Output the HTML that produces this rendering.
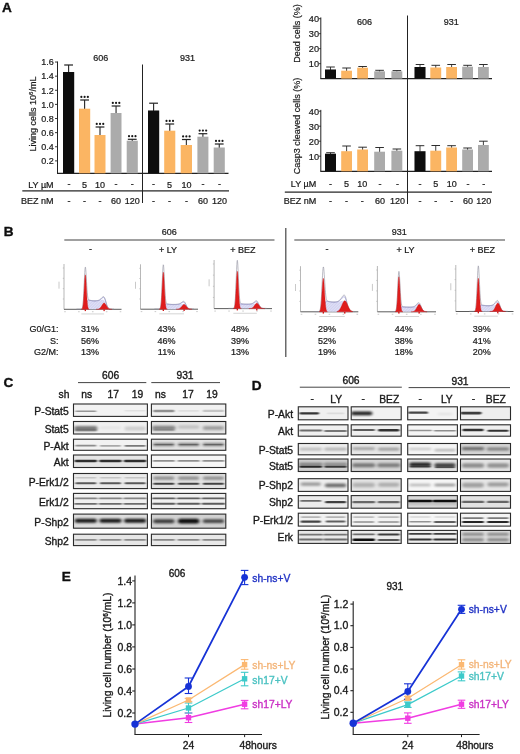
<!DOCTYPE html>
<html><head><meta charset="utf-8"><title>Figure</title>
<style>
html,body{margin:0;padding:0;background:#fff;}
body{width:520px;height:754px;overflow:hidden;font-family:"Liberation Sans", sans-serif;}
svg{display:block;font-family:"Liberation Sans", sans-serif;}
</style></head><body>
<svg width="520" height="754" viewBox="0 0 520 754">
<defs>
<filter id="b1" x="-20%" y="-80%" width="140%" height="260%"><feGaussianBlur stdDeviation="1.3 0.62"/></filter>
<filter id="b2" x="-20%" y="-80%" width="140%" height="260%"><feGaussianBlur stdDeviation="1.4 0.9"/></filter>
<filter id="b3" x="-20%" y="-80%" width="140%" height="260%"><feGaussianBlur stdDeviation="1.8 1.3"/></filter>
<filter id="soft" x="-5%" y="-5%" width="110%" height="110%"><feGaussianBlur stdDeviation="0.27"/></filter>
<pattern id="hatch" width="2" height="2" patternUnits="userSpaceOnUse" patternTransform="rotate(45)"><rect width="2" height="2" fill="#e0e0f6"/><rect width="0.6" height="2" fill="#c8c8ec"/></pattern>
</defs>
<rect width="520" height="754" fill="#fff"/>
<g filter="url(#soft)">

<text x="6.80" y="11.90" font-size="13.6" text-anchor="middle" fill="#0c0c0c" stroke="#0c0c0c" stroke-width="0.35" font-weight="bold" >A</text>
<line x1="57.50" y1="61.50" x2="57.50" y2="173.30" stroke="#222" stroke-width="1" />
<line x1="57.00" y1="173.30" x2="228.50" y2="173.30" stroke="#222" stroke-width="1.2" />
<line x1="55.00" y1="160.88" x2="57.50" y2="160.88" stroke="#222" stroke-width="0.9" />
<text x="53.70" y="164.12" font-size="9" text-anchor="end" fill="#1a1a1a" stroke="#1a1a1a" stroke-width="0.22" font-weight="normal" >0.2</text>
<line x1="55.00" y1="146.76" x2="57.50" y2="146.76" stroke="#222" stroke-width="0.9" />
<text x="53.70" y="150.00" font-size="9" text-anchor="end" fill="#1a1a1a" stroke="#1a1a1a" stroke-width="0.22" font-weight="normal" >0.4</text>
<line x1="55.00" y1="132.64" x2="57.50" y2="132.64" stroke="#222" stroke-width="0.9" />
<text x="53.70" y="135.88" font-size="9" text-anchor="end" fill="#1a1a1a" stroke="#1a1a1a" stroke-width="0.22" font-weight="normal" >0.6</text>
<line x1="55.00" y1="118.52" x2="57.50" y2="118.52" stroke="#222" stroke-width="0.9" />
<text x="53.70" y="121.76" font-size="9" text-anchor="end" fill="#1a1a1a" stroke="#1a1a1a" stroke-width="0.22" font-weight="normal" >0.8</text>
<line x1="55.00" y1="104.40" x2="57.50" y2="104.40" stroke="#222" stroke-width="0.9" />
<text x="53.70" y="107.64" font-size="9" text-anchor="end" fill="#1a1a1a" stroke="#1a1a1a" stroke-width="0.22" font-weight="normal" >1.0</text>
<line x1="55.00" y1="90.28" x2="57.50" y2="90.28" stroke="#222" stroke-width="0.9" />
<text x="53.70" y="93.52" font-size="9" text-anchor="end" fill="#1a1a1a" stroke="#1a1a1a" stroke-width="0.22" font-weight="normal" >1.2</text>
<line x1="55.00" y1="76.16" x2="57.50" y2="76.16" stroke="#222" stroke-width="0.9" />
<text x="53.70" y="79.40" font-size="9" text-anchor="end" fill="#1a1a1a" stroke="#1a1a1a" stroke-width="0.22" font-weight="normal" >1.4</text>
<line x1="55.00" y1="62.04" x2="57.50" y2="62.04" stroke="#222" stroke-width="0.9" />
<text x="53.70" y="65.28" font-size="9" text-anchor="end" fill="#1a1a1a" stroke="#1a1a1a" stroke-width="0.22" font-weight="normal" >1.6</text>
<text transform="translate(32.3,114) rotate(-90)" font-size="9" text-anchor="middle" fill="#1a1a1a" stroke="#1a1a1a" stroke-width="0.2" dy="3.2">Living cells 10<tspan font-size="6" dy="-3">6</tspan><tspan dy="3">/mL</tspan></text>
<line x1="68.60" y1="72.50" x2="68.60" y2="65.00" stroke="#222" stroke-width="1.08" />
<line x1="64.20" y1="65.00" x2="73.00" y2="65.00" stroke="#222" stroke-width="1.2" />
<rect x="63.00" y="72.00" width="11.20" height="101.30" fill="#0a0a0a" />
<line x1="84.60" y1="109.20" x2="84.60" y2="100.00" stroke="#222" stroke-width="1.08" />
<line x1="80.20" y1="100.00" x2="89.00" y2="100.00" stroke="#222" stroke-width="1.2" />
<rect x="79.00" y="108.70" width="11.20" height="64.60" fill="#fbb563" />
<circle cx="81.35" cy="96.90" r="1.08" fill="#161616"/>
<circle cx="84.60" cy="96.90" r="1.08" fill="#161616"/>
<circle cx="87.85" cy="96.90" r="1.08" fill="#161616"/>
<line x1="100.00" y1="135.50" x2="100.00" y2="127.00" stroke="#222" stroke-width="1.08" />
<line x1="95.60" y1="127.00" x2="104.40" y2="127.00" stroke="#222" stroke-width="1.2" />
<rect x="94.50" y="135.00" width="11.00" height="38.30" fill="#fbb563" />
<circle cx="96.75" cy="123.90" r="1.08" fill="#161616"/>
<circle cx="100.00" cy="123.90" r="1.08" fill="#161616"/>
<circle cx="103.25" cy="123.90" r="1.08" fill="#161616"/>
<line x1="116.05" y1="113.50" x2="116.05" y2="106.00" stroke="#222" stroke-width="1.08" />
<line x1="111.65" y1="106.00" x2="120.45" y2="106.00" stroke="#222" stroke-width="1.2" />
<rect x="110.60" y="113.00" width="10.90" height="60.30" fill="#ababab" />
<circle cx="112.80" cy="102.90" r="1.08" fill="#161616"/>
<circle cx="116.05" cy="102.90" r="1.08" fill="#161616"/>
<circle cx="119.30" cy="102.90" r="1.08" fill="#161616"/>
<line x1="132.25" y1="141.20" x2="132.25" y2="139.30" stroke="#222" stroke-width="1.08" />
<line x1="127.85" y1="139.30" x2="136.65" y2="139.30" stroke="#222" stroke-width="1.2" />
<rect x="126.70" y="140.70" width="11.10" height="32.60" fill="#ababab" />
<circle cx="129.00" cy="136.20" r="1.08" fill="#161616"/>
<circle cx="132.25" cy="136.20" r="1.08" fill="#161616"/>
<circle cx="135.50" cy="136.20" r="1.08" fill="#161616"/>
<line x1="153.60" y1="111.00" x2="153.60" y2="103.20" stroke="#222" stroke-width="1.08" />
<line x1="149.20" y1="103.20" x2="158.00" y2="103.20" stroke="#222" stroke-width="1.2" />
<rect x="148.00" y="110.50" width="11.20" height="62.80" fill="#0a0a0a" />
<line x1="169.75" y1="131.20" x2="169.75" y2="124.00" stroke="#222" stroke-width="1.08" />
<line x1="165.35" y1="124.00" x2="174.15" y2="124.00" stroke="#222" stroke-width="1.2" />
<rect x="164.20" y="130.70" width="11.10" height="42.60" fill="#fbb563" />
<circle cx="166.50" cy="120.90" r="1.08" fill="#161616"/>
<circle cx="169.75" cy="120.90" r="1.08" fill="#161616"/>
<circle cx="173.00" cy="120.90" r="1.08" fill="#161616"/>
<line x1="186.35" y1="145.50" x2="186.35" y2="139.50" stroke="#222" stroke-width="1.08" />
<line x1="181.95" y1="139.50" x2="190.75" y2="139.50" stroke="#222" stroke-width="1.2" />
<rect x="180.70" y="145.00" width="11.30" height="28.30" fill="#fbb563" />
<circle cx="183.10" cy="136.40" r="1.08" fill="#161616"/>
<circle cx="186.35" cy="136.40" r="1.08" fill="#161616"/>
<circle cx="189.60" cy="136.40" r="1.08" fill="#161616"/>
<line x1="202.90" y1="137.20" x2="202.90" y2="133.70" stroke="#222" stroke-width="1.08" />
<line x1="198.50" y1="133.70" x2="207.30" y2="133.70" stroke="#222" stroke-width="1.2" />
<rect x="197.40" y="136.70" width="11.00" height="36.60" fill="#ababab" />
<circle cx="199.65" cy="130.60" r="1.08" fill="#161616"/>
<circle cx="202.90" cy="130.60" r="1.08" fill="#161616"/>
<circle cx="206.15" cy="130.60" r="1.08" fill="#161616"/>
<line x1="219.25" y1="148.00" x2="219.25" y2="144.00" stroke="#222" stroke-width="1.08" />
<line x1="214.85" y1="144.00" x2="223.65" y2="144.00" stroke="#222" stroke-width="1.2" />
<rect x="213.70" y="147.50" width="11.10" height="25.80" fill="#ababab" />
<circle cx="216.00" cy="140.90" r="1.08" fill="#161616"/>
<circle cx="219.25" cy="140.90" r="1.08" fill="#161616"/>
<circle cx="222.50" cy="140.90" r="1.08" fill="#161616"/>
<text x="100.70" y="61.24" font-size="9" text-anchor="middle" fill="#1a1a1a" stroke="#1a1a1a" stroke-width="0.22" font-weight="normal" >606</text>
<text x="187.50" y="61.24" font-size="9" text-anchor="middle" fill="#1a1a1a" stroke="#1a1a1a" stroke-width="0.22" font-weight="normal" >931</text>
<line x1="142.50" y1="64.50" x2="142.50" y2="203.00" stroke="#222" stroke-width="1" />
<line x1="22.30" y1="190.90" x2="229.00" y2="190.90" stroke="#262626" stroke-width="1.25" />
<text x="53.60" y="187.64" font-size="9" text-anchor="end" fill="#1a1a1a" stroke="#1a1a1a" stroke-width="0.22" font-weight="normal" >LY µM</text>
<text x="53.60" y="204.14" font-size="9" text-anchor="end" fill="#1a1a1a" stroke="#1a1a1a" stroke-width="0.22" font-weight="normal" >BEZ nM</text>
<text x="69.00" y="187.14" font-size="9" text-anchor="middle" fill="#1a1a1a" stroke="#1a1a1a" stroke-width="0.22" font-weight="normal" >-</text>
<text x="69.00" y="203.84" font-size="9" text-anchor="middle" fill="#1a1a1a" stroke="#1a1a1a" stroke-width="0.22" font-weight="normal" >-</text>
<text x="84.50" y="187.74" font-size="9" text-anchor="middle" fill="#1a1a1a" stroke="#1a1a1a" stroke-width="0.22" font-weight="normal" >5</text>
<text x="84.50" y="203.84" font-size="9" text-anchor="middle" fill="#1a1a1a" stroke="#1a1a1a" stroke-width="0.22" font-weight="normal" >-</text>
<text x="100.00" y="187.74" font-size="9" text-anchor="middle" fill="#1a1a1a" stroke="#1a1a1a" stroke-width="0.22" font-weight="normal" >10</text>
<text x="100.00" y="203.84" font-size="9" text-anchor="middle" fill="#1a1a1a" stroke="#1a1a1a" stroke-width="0.22" font-weight="normal" >-</text>
<text x="116.00" y="187.14" font-size="9" text-anchor="middle" fill="#1a1a1a" stroke="#1a1a1a" stroke-width="0.22" font-weight="normal" >-</text>
<text x="116.00" y="204.44" font-size="9" text-anchor="middle" fill="#1a1a1a" stroke="#1a1a1a" stroke-width="0.22" font-weight="normal" >60</text>
<text x="132.20" y="187.14" font-size="9" text-anchor="middle" fill="#1a1a1a" stroke="#1a1a1a" stroke-width="0.22" font-weight="normal" >-</text>
<text x="132.20" y="204.44" font-size="9" text-anchor="middle" fill="#1a1a1a" stroke="#1a1a1a" stroke-width="0.22" font-weight="normal" >120</text>
<text x="153.50" y="187.14" font-size="9" text-anchor="middle" fill="#1a1a1a" stroke="#1a1a1a" stroke-width="0.22" font-weight="normal" >-</text>
<text x="153.50" y="203.84" font-size="9" text-anchor="middle" fill="#1a1a1a" stroke="#1a1a1a" stroke-width="0.22" font-weight="normal" >-</text>
<text x="169.50" y="187.74" font-size="9" text-anchor="middle" fill="#1a1a1a" stroke="#1a1a1a" stroke-width="0.22" font-weight="normal" >5</text>
<text x="169.50" y="203.84" font-size="9" text-anchor="middle" fill="#1a1a1a" stroke="#1a1a1a" stroke-width="0.22" font-weight="normal" >-</text>
<text x="186.50" y="187.74" font-size="9" text-anchor="middle" fill="#1a1a1a" stroke="#1a1a1a" stroke-width="0.22" font-weight="normal" >10</text>
<text x="186.50" y="203.84" font-size="9" text-anchor="middle" fill="#1a1a1a" stroke="#1a1a1a" stroke-width="0.22" font-weight="normal" >-</text>
<text x="203.00" y="187.14" font-size="9" text-anchor="middle" fill="#1a1a1a" stroke="#1a1a1a" stroke-width="0.22" font-weight="normal" >-</text>
<text x="203.00" y="204.44" font-size="9" text-anchor="middle" fill="#1a1a1a" stroke="#1a1a1a" stroke-width="0.22" font-weight="normal" >60</text>
<text x="219.50" y="187.14" font-size="9" text-anchor="middle" fill="#1a1a1a" stroke="#1a1a1a" stroke-width="0.22" font-weight="normal" >-</text>
<text x="219.50" y="204.44" font-size="9" text-anchor="middle" fill="#1a1a1a" stroke="#1a1a1a" stroke-width="0.22" font-weight="normal" >120</text>
<line x1="320.80" y1="17.40" x2="320.80" y2="78.60" stroke="#222" stroke-width="1" />
<line x1="320.30" y1="78.60" x2="492.00" y2="78.60" stroke="#222" stroke-width="1.2" />
<line x1="319.00" y1="18.70" x2="320.80" y2="18.70" stroke="#222" stroke-width="0.9" />
<text x="319.10" y="22.31" font-size="9.2" text-anchor="end" fill="#1a1a1a" stroke="#1a1a1a" stroke-width="0.22" font-weight="normal" >40</text>
<line x1="319.00" y1="33.70" x2="320.80" y2="33.70" stroke="#222" stroke-width="0.9" />
<text x="319.10" y="37.31" font-size="9.2" text-anchor="end" fill="#1a1a1a" stroke="#1a1a1a" stroke-width="0.22" font-weight="normal" >30</text>
<line x1="319.00" y1="48.70" x2="320.80" y2="48.70" stroke="#222" stroke-width="0.9" />
<text x="319.10" y="52.31" font-size="9.2" text-anchor="end" fill="#1a1a1a" stroke="#1a1a1a" stroke-width="0.22" font-weight="normal" >20</text>
<line x1="319.00" y1="63.70" x2="320.80" y2="63.70" stroke="#222" stroke-width="0.9" />
<text x="319.10" y="67.31" font-size="9.2" text-anchor="end" fill="#1a1a1a" stroke="#1a1a1a" stroke-width="0.22" font-weight="normal" >10</text>
<line x1="330.50" y1="70.00" x2="330.50" y2="67.00" stroke="#222" stroke-width="0.855" />
<line x1="326.20" y1="67.00" x2="334.80" y2="67.00" stroke="#222" stroke-width="0.95" />
<rect x="325.00" y="69.50" width="11.00" height="9.10" fill="#0a0a0a" />
<line x1="346.60" y1="71.20" x2="346.60" y2="68.00" stroke="#222" stroke-width="0.855" />
<line x1="342.30" y1="68.00" x2="350.90" y2="68.00" stroke="#222" stroke-width="0.95" />
<rect x="341.20" y="70.70" width="10.80" height="7.90" fill="#fbb563" />
<line x1="362.60" y1="68.20" x2="362.60" y2="66.50" stroke="#222" stroke-width="0.855" />
<line x1="358.30" y1="66.50" x2="366.90" y2="66.50" stroke="#222" stroke-width="0.95" />
<rect x="357.20" y="67.70" width="10.80" height="10.90" fill="#fbb563" />
<line x1="379.60" y1="71.80" x2="379.60" y2="70.30" stroke="#222" stroke-width="0.855" />
<line x1="375.30" y1="70.30" x2="383.90" y2="70.30" stroke="#222" stroke-width="0.95" />
<rect x="374.20" y="71.30" width="10.80" height="7.30" fill="#ababab" />
<line x1="396.85" y1="71.80" x2="396.85" y2="70.60" stroke="#222" stroke-width="0.855" />
<line x1="392.55" y1="70.60" x2="401.15" y2="70.60" stroke="#222" stroke-width="0.95" />
<rect x="391.40" y="71.30" width="10.90" height="7.30" fill="#ababab" />
<line x1="420.00" y1="67.50" x2="420.00" y2="64.50" stroke="#222" stroke-width="0.855" />
<line x1="415.70" y1="64.50" x2="424.30" y2="64.50" stroke="#222" stroke-width="0.95" />
<rect x="414.50" y="67.00" width="11.00" height="11.60" fill="#0a0a0a" />
<line x1="435.75" y1="68.00" x2="435.75" y2="65.30" stroke="#222" stroke-width="0.855" />
<line x1="431.45" y1="65.30" x2="440.05" y2="65.30" stroke="#222" stroke-width="0.95" />
<rect x="430.30" y="67.50" width="10.90" height="11.10" fill="#fbb563" />
<line x1="451.60" y1="67.50" x2="451.60" y2="64.50" stroke="#222" stroke-width="0.855" />
<line x1="447.30" y1="64.50" x2="455.90" y2="64.50" stroke="#222" stroke-width="0.95" />
<rect x="446.20" y="67.00" width="10.80" height="11.60" fill="#fbb563" />
<line x1="467.60" y1="67.20" x2="467.60" y2="65.30" stroke="#222" stroke-width="0.855" />
<line x1="463.30" y1="65.30" x2="471.90" y2="65.30" stroke="#222" stroke-width="0.95" />
<rect x="462.20" y="66.70" width="10.80" height="11.90" fill="#ababab" />
<line x1="483.40" y1="67.50" x2="483.40" y2="64.50" stroke="#222" stroke-width="0.855" />
<line x1="479.10" y1="64.50" x2="487.70" y2="64.50" stroke="#222" stroke-width="0.95" />
<rect x="478.00" y="67.00" width="10.80" height="11.60" fill="#ababab" />
<line x1="320.80" y1="109.90" x2="320.80" y2="171.30" stroke="#222" stroke-width="1" />
<line x1="320.30" y1="171.30" x2="492.00" y2="171.30" stroke="#222" stroke-width="1.2" />
<line x1="319.00" y1="111.20" x2="320.80" y2="111.20" stroke="#222" stroke-width="0.9" />
<text x="319.10" y="114.81" font-size="9.2" text-anchor="end" fill="#1a1a1a" stroke="#1a1a1a" stroke-width="0.22" font-weight="normal" >40</text>
<line x1="319.00" y1="126.20" x2="320.80" y2="126.20" stroke="#222" stroke-width="0.9" />
<text x="319.10" y="129.81" font-size="9.2" text-anchor="end" fill="#1a1a1a" stroke="#1a1a1a" stroke-width="0.22" font-weight="normal" >30</text>
<line x1="319.00" y1="141.20" x2="320.80" y2="141.20" stroke="#222" stroke-width="0.9" />
<text x="319.10" y="144.81" font-size="9.2" text-anchor="end" fill="#1a1a1a" stroke="#1a1a1a" stroke-width="0.22" font-weight="normal" >20</text>
<line x1="319.00" y1="156.20" x2="320.80" y2="156.20" stroke="#222" stroke-width="0.9" />
<text x="319.10" y="159.81" font-size="9.2" text-anchor="end" fill="#1a1a1a" stroke="#1a1a1a" stroke-width="0.22" font-weight="normal" >10</text>
<line x1="330.50" y1="154.20" x2="330.50" y2="152.70" stroke="#222" stroke-width="0.855" />
<line x1="326.20" y1="152.70" x2="334.80" y2="152.70" stroke="#222" stroke-width="0.95" />
<rect x="325.00" y="153.70" width="11.00" height="17.60" fill="#0a0a0a" />
<line x1="346.60" y1="151.70" x2="346.60" y2="146.00" stroke="#222" stroke-width="0.855" />
<line x1="342.30" y1="146.00" x2="350.90" y2="146.00" stroke="#222" stroke-width="0.95" />
<rect x="341.20" y="151.20" width="10.80" height="20.10" fill="#fbb563" />
<line x1="362.60" y1="150.00" x2="362.60" y2="147.20" stroke="#222" stroke-width="0.855" />
<line x1="358.30" y1="147.20" x2="366.90" y2="147.20" stroke="#222" stroke-width="0.95" />
<rect x="357.20" y="149.50" width="10.80" height="21.80" fill="#fbb563" />
<line x1="379.60" y1="152.20" x2="379.60" y2="147.50" stroke="#222" stroke-width="0.855" />
<line x1="375.30" y1="147.50" x2="383.90" y2="147.50" stroke="#222" stroke-width="0.95" />
<rect x="374.20" y="151.70" width="10.80" height="19.60" fill="#ababab" />
<line x1="396.85" y1="151.20" x2="396.85" y2="149.00" stroke="#222" stroke-width="0.855" />
<line x1="392.55" y1="149.00" x2="401.15" y2="149.00" stroke="#222" stroke-width="0.95" />
<rect x="391.40" y="150.70" width="10.90" height="20.60" fill="#ababab" />
<line x1="420.00" y1="151.70" x2="420.00" y2="145.70" stroke="#222" stroke-width="0.855" />
<line x1="415.70" y1="145.70" x2="424.30" y2="145.70" stroke="#222" stroke-width="0.95" />
<rect x="414.50" y="151.20" width="11.00" height="20.10" fill="#0a0a0a" />
<line x1="435.75" y1="151.20" x2="435.75" y2="145.50" stroke="#222" stroke-width="0.855" />
<line x1="431.45" y1="145.50" x2="440.05" y2="145.50" stroke="#222" stroke-width="0.95" />
<rect x="430.30" y="150.70" width="10.90" height="20.60" fill="#fbb563" />
<line x1="451.60" y1="148.00" x2="451.60" y2="145.70" stroke="#222" stroke-width="0.855" />
<line x1="447.30" y1="145.70" x2="455.90" y2="145.70" stroke="#222" stroke-width="0.95" />
<rect x="446.20" y="147.50" width="10.80" height="23.80" fill="#fbb563" />
<line x1="467.60" y1="150.00" x2="467.60" y2="148.00" stroke="#222" stroke-width="0.855" />
<line x1="463.30" y1="148.00" x2="471.90" y2="148.00" stroke="#222" stroke-width="0.95" />
<rect x="462.20" y="149.50" width="10.80" height="21.80" fill="#ababab" />
<line x1="483.40" y1="145.50" x2="483.40" y2="141.20" stroke="#222" stroke-width="0.855" />
<line x1="479.10" y1="141.20" x2="487.70" y2="141.20" stroke="#222" stroke-width="0.95" />
<rect x="478.00" y="145.00" width="10.80" height="26.30" fill="#ababab" />
<text transform="translate(297.00,33.50) rotate(-90)" font-size="9" text-anchor="middle" fill="#1a1a1a" stroke="#1a1a1a" stroke-width="0.2" dy="3.24">Dead cells (%)</text>
<text transform="translate(297.00,126.00) rotate(-90)" font-size="9" text-anchor="middle" fill="#1a1a1a" stroke="#1a1a1a" stroke-width="0.2" dy="3.24">Casp3 cleaved cells (%)</text>
<text x="364.50" y="24.94" font-size="9" text-anchor="middle" fill="#1a1a1a" stroke="#1a1a1a" stroke-width="0.22" font-weight="normal" >606</text>
<text x="451.20" y="24.94" font-size="9" text-anchor="middle" fill="#1a1a1a" stroke="#1a1a1a" stroke-width="0.22" font-weight="normal" >931</text>
<line x1="407.50" y1="15.50" x2="407.50" y2="204.00" stroke="#222" stroke-width="1" />
<line x1="284.80" y1="192.00" x2="492.00" y2="192.00" stroke="#262626" stroke-width="1.25" />
<text x="316.20" y="187.24" font-size="9" text-anchor="end" fill="#1a1a1a" stroke="#1a1a1a" stroke-width="0.22" font-weight="normal" >LY µM</text>
<text x="316.20" y="204.34" font-size="9" text-anchor="end" fill="#1a1a1a" stroke="#1a1a1a" stroke-width="0.22" font-weight="normal" >BEZ nM</text>
<text x="330.50" y="186.64" font-size="9" text-anchor="middle" fill="#1a1a1a" stroke="#1a1a1a" stroke-width="0.22" font-weight="normal" >-</text>
<text x="330.50" y="203.74" font-size="9" text-anchor="middle" fill="#1a1a1a" stroke="#1a1a1a" stroke-width="0.22" font-weight="normal" >-</text>
<text x="346.50" y="187.24" font-size="9" text-anchor="middle" fill="#1a1a1a" stroke="#1a1a1a" stroke-width="0.22" font-weight="normal" >5</text>
<text x="346.50" y="203.74" font-size="9" text-anchor="middle" fill="#1a1a1a" stroke="#1a1a1a" stroke-width="0.22" font-weight="normal" >-</text>
<text x="362.30" y="187.24" font-size="9" text-anchor="middle" fill="#1a1a1a" stroke="#1a1a1a" stroke-width="0.22" font-weight="normal" >10</text>
<text x="362.30" y="203.74" font-size="9" text-anchor="middle" fill="#1a1a1a" stroke="#1a1a1a" stroke-width="0.22" font-weight="normal" >-</text>
<text x="380.00" y="186.64" font-size="9" text-anchor="middle" fill="#1a1a1a" stroke="#1a1a1a" stroke-width="0.22" font-weight="normal" >-</text>
<text x="380.00" y="204.34" font-size="9" text-anchor="middle" fill="#1a1a1a" stroke="#1a1a1a" stroke-width="0.22" font-weight="normal" >60</text>
<text x="397.50" y="186.64" font-size="9" text-anchor="middle" fill="#1a1a1a" stroke="#1a1a1a" stroke-width="0.22" font-weight="normal" >-</text>
<text x="397.50" y="204.34" font-size="9" text-anchor="middle" fill="#1a1a1a" stroke="#1a1a1a" stroke-width="0.22" font-weight="normal" >120</text>
<text x="420.00" y="186.64" font-size="9" text-anchor="middle" fill="#1a1a1a" stroke="#1a1a1a" stroke-width="0.22" font-weight="normal" >-</text>
<text x="420.00" y="203.74" font-size="9" text-anchor="middle" fill="#1a1a1a" stroke="#1a1a1a" stroke-width="0.22" font-weight="normal" >-</text>
<text x="435.80" y="187.24" font-size="9" text-anchor="middle" fill="#1a1a1a" stroke="#1a1a1a" stroke-width="0.22" font-weight="normal" >5</text>
<text x="435.80" y="203.74" font-size="9" text-anchor="middle" fill="#1a1a1a" stroke="#1a1a1a" stroke-width="0.22" font-weight="normal" >-</text>
<text x="451.80" y="187.24" font-size="9" text-anchor="middle" fill="#1a1a1a" stroke="#1a1a1a" stroke-width="0.22" font-weight="normal" >10</text>
<text x="451.80" y="203.74" font-size="9" text-anchor="middle" fill="#1a1a1a" stroke="#1a1a1a" stroke-width="0.22" font-weight="normal" >-</text>
<text x="468.00" y="186.64" font-size="9" text-anchor="middle" fill="#1a1a1a" stroke="#1a1a1a" stroke-width="0.22" font-weight="normal" >-</text>
<text x="468.00" y="204.34" font-size="9" text-anchor="middle" fill="#1a1a1a" stroke="#1a1a1a" stroke-width="0.22" font-weight="normal" >60</text>
<text x="483.80" y="186.64" font-size="9" text-anchor="middle" fill="#1a1a1a" stroke="#1a1a1a" stroke-width="0.22" font-weight="normal" >-</text>
<text x="483.80" y="204.34" font-size="9" text-anchor="middle" fill="#1a1a1a" stroke="#1a1a1a" stroke-width="0.22" font-weight="normal" >120</text>
<text x="8.65" y="236.10" font-size="13.6" text-anchor="middle" fill="#0c0c0c" stroke="#0c0c0c" stroke-width="0.35" font-weight="bold" >B</text>
<line x1="64.30" y1="240.00" x2="274.50" y2="240.00" stroke="#444" stroke-width="1.05" />
<line x1="294.30" y1="240.00" x2="505.00" y2="240.00" stroke="#444" stroke-width="1.05" />
<line x1="285.80" y1="228.00" x2="285.80" y2="357.00" stroke="#444" stroke-width="1.2" />
<text x="169.30" y="234.54" font-size="9" text-anchor="middle" fill="#1a1a1a" stroke="#1a1a1a" stroke-width="0.22" font-weight="normal" >606</text>
<text x="399.20" y="234.54" font-size="9" text-anchor="middle" fill="#1a1a1a" stroke="#1a1a1a" stroke-width="0.22" font-weight="normal" >931</text>
<text x="90.50" y="252.14" font-size="9" text-anchor="middle" fill="#1a1a1a" stroke="#1a1a1a" stroke-width="0.22" font-weight="normal" >-</text>
<text x="168.00" y="252.74" font-size="9" text-anchor="middle" fill="#1a1a1a" stroke="#1a1a1a" stroke-width="0.22" font-weight="normal" >+ LY</text>
<text x="243.00" y="252.74" font-size="9" text-anchor="middle" fill="#1a1a1a" stroke="#1a1a1a" stroke-width="0.22" font-weight="normal" >+ BEZ</text>
<text x="327.00" y="252.14" font-size="9" text-anchor="middle" fill="#1a1a1a" stroke="#1a1a1a" stroke-width="0.22" font-weight="normal" >-</text>
<text x="405.50" y="252.74" font-size="9" text-anchor="middle" fill="#1a1a1a" stroke="#1a1a1a" stroke-width="0.22" font-weight="normal" >+ LY</text>
<text x="482.50" y="252.74" font-size="9" text-anchor="middle" fill="#1a1a1a" stroke="#1a1a1a" stroke-width="0.22" font-weight="normal" >+ BEZ</text>
<line x1="64.00" y1="264.00" x2="64.00" y2="309.30" stroke="#9a9a9a" stroke-width="0.7" />
<line x1="64.00" y1="309.30" x2="121.50" y2="309.30" stroke="#4a4a4a" stroke-width="0.9" />
<line x1="62.80" y1="268.00" x2="64.00" y2="268.00" stroke="#aaa" stroke-width="0.6" />
<line x1="62.80" y1="278.32" x2="64.00" y2="278.32" stroke="#aaa" stroke-width="0.6" />
<line x1="62.80" y1="288.65" x2="64.00" y2="288.65" stroke="#aaa" stroke-width="0.6" />
<line x1="62.80" y1="298.98" x2="64.00" y2="298.98" stroke="#aaa" stroke-width="0.6" />
<rect x="58.50" y="281.65" width="1.00" height="7.00" fill="#c9c9c9" />
<rect x="64.20" y="311.30" width="1.60" height="0.90" fill="#c4c4c4" />
<rect x="78.08" y="311.30" width="1.60" height="0.90" fill="#c4c4c4" />
<rect x="91.95" y="311.30" width="1.60" height="0.90" fill="#c4c4c4" />
<rect x="105.83" y="311.30" width="1.60" height="0.90" fill="#c4c4c4" />
<rect x="119.70" y="311.30" width="1.60" height="0.90" fill="#c4c4c4" />
<rect x="81.30" y="313.50" width="22.80" height="0.90" fill="#d0d0d0" />
<polygon points="85.50,309.30 85.50,308.07 85.75,307.44 86.00,306.58 86.25,305.52 86.50,304.34 86.75,303.18 87.00,302.18 87.25,301.40 87.50,300.86 87.75,300.52 88.00,300.32 88.25,300.22 88.50,300.19 88.75,300.19 89.00,300.21 89.25,300.25 89.50,300.29 89.75,300.34 90.00,300.39 90.25,300.44 90.50,300.48 90.75,300.53 91.00,300.57 91.25,300.61 91.50,300.65 91.75,300.68 92.00,300.71 92.25,300.74 92.50,300.76 92.75,300.79 93.00,300.81 93.25,300.83 93.50,300.84 93.75,300.85 94.00,300.86 94.25,300.87 94.50,300.87 94.75,300.87 95.00,300.87 95.25,300.87 95.50,300.86 95.75,300.85 96.00,300.83 96.25,300.82 96.50,300.80 96.75,300.78 97.00,300.76 97.25,300.73 97.50,300.70 97.75,300.67 98.00,300.63 98.25,300.59 98.50,300.55 98.75,300.51 99.00,300.47 99.25,300.42 99.50,300.37 99.75,300.32 100.00,300.26 100.25,300.21 100.50,300.15 100.75,300.10 101.00,300.04 101.25,299.99 101.50,299.93 101.75,299.89 102.00,299.84 102.25,299.81 102.50,299.79 102.75,299.79 103.00,299.82 103.25,299.87 103.50,299.96 103.75,300.11 104.00,300.31 104.25,300.59 104.50,300.94 104.75,301.39 105.00,301.91 105.25,302.52 105.50,303.18 105.75,303.89 106.00,304.60 106.25,305.29 106.50,305.94 106.75,306.53 107.00,307.05 107.25,307.49 107.50,307.86 107.75,308.17 108.00,308.41 108.25,308.61 108.50,308.76 108.75,308.88 109.00,308.98 109.10,309.30" fill="url(#hatch)"/>
<polyline points="87.00,302.18 87.25,301.40 87.50,300.86 87.75,300.52 88.00,300.32 88.25,300.22 88.50,300.19 88.75,300.19 89.00,300.21 89.25,300.25 89.50,300.29 89.75,300.34 90.00,300.39 90.25,300.44 90.50,300.48 90.75,300.53 91.00,300.57 91.25,300.61 91.50,300.65 91.75,300.68 92.00,300.71 92.25,300.74 92.50,300.76 92.75,300.79 93.00,300.81 93.25,300.83 93.50,300.84 93.75,300.85 94.00,300.86 94.25,300.87 94.50,300.87 94.75,300.87 95.00,300.87 95.25,300.86 95.50,300.86 95.75,300.85 96.00,300.83 96.25,300.81 96.50,300.79 96.75,300.77 97.00,300.74 97.25,300.70 97.50,300.67 97.75,300.62 98.00,300.57 98.25,300.51 98.50,300.44 98.75,300.37 99.00,300.28 99.25,300.18 99.50,300.06 99.75,299.94 100.00,299.79 100.25,299.64 100.50,299.46 100.75,299.28 101.00,299.08 101.25,298.87 101.50,298.66 101.75,298.45 102.00,298.24 102.25,298.04 102.50,297.87 102.75,297.72 103.00,297.62 103.25,297.56 103.50,297.57 103.75,297.66 104.00,297.84 104.25,298.11 104.50,298.50 104.75,299.01 105.00,299.62 105.25,300.34 105.50,301.14 105.75,301.99 106.00,302.86 106.25,303.72 106.50,304.54 106.75,305.29 107.00,305.97 107.25,306.56 107.50,307.07 107.75,307.50 108.00,307.86 108.25,308.15 108.50,308.39" fill="none" stroke="#7d7dd6" stroke-width="0.55"/>
<polyline points="76.50,309.05 76.75,309.05 77.00,309.05 77.25,309.05 77.50,309.05 77.75,309.05 78.00,309.05 78.25,309.05 78.50,309.05 78.75,309.05 79.00,309.05 79.25,309.05 79.50,309.05 79.75,309.05 80.00,309.05 80.25,309.05 80.50,309.05 80.75,309.04 81.00,309.03 81.25,309.00 81.50,308.94 81.75,308.82 82.00,308.59 82.25,308.17 82.50,307.43 82.75,306.24 83.00,304.41 83.25,301.78 83.50,298.22 83.75,293.74 84.00,288.48 84.25,282.81 84.50,277.23 84.75,272.39 85.00,268.87 85.25,267.12 85.50,267.32 85.75,269.33 86.00,272.74 86.25,276.97 86.50,281.47 86.75,285.77 87.00,289.59 87.25,292.75 87.50,295.21 87.75,297.00 88.00,298.23 88.25,299.02 88.50,299.52 88.75,299.82 89.00,300.00 89.25,300.12 89.50,300.20 89.75,300.26 90.00,300.31 90.25,300.36 90.50,300.41 90.75,300.45 91.00,300.49 91.25,300.53 91.50,300.57 91.75,300.60 92.00,300.63 92.25,300.66 92.50,300.69 92.75,300.71 93.00,300.73 93.25,300.74 93.50,300.76 93.75,300.77 94.00,300.78 94.25,300.79 94.50,300.79 94.75,300.79 95.00,300.79 95.25,300.78 95.50,300.77 95.75,300.76 96.00,300.75 96.25,300.73 96.50,300.71 96.75,300.68 97.00,300.65 97.25,300.62 97.50,300.57 97.75,300.53 98.00,300.47 98.25,300.40 98.50,300.33 98.75,300.24 99.00,300.13 99.25,300.01 99.50,299.88 99.75,299.72 100.00,299.55 100.25,299.35 100.50,299.14 100.75,298.91 101.00,298.66 101.25,298.39 101.50,298.12 101.75,297.85 102.00,297.58 102.25,297.32 102.50,297.09 102.75,296.88 103.00,296.73 103.25,296.63 103.50,296.61 103.75,296.67 104.00,296.84 104.25,297.11 104.50,297.50 104.75,298.02 105.00,298.66 105.25,299.41 105.50,300.25 105.75,301.14 106.00,302.06 106.25,302.96 106.50,303.83 106.75,304.63 107.00,305.36 107.25,306.00 107.50,306.55 107.75,307.02 108.00,307.42 108.25,307.75 108.50,308.02 108.75,308.24 109.00,308.42 109.25,308.56 109.50,308.67 109.75,308.76 110.00,308.83 110.25,308.88 110.50,308.92 110.75,308.96 111.00,308.98 111.25,309.00 111.50,309.01 111.75,309.02 112.00,309.03 112.25,309.03 112.50,309.04 112.75,309.04 113.00,309.04 113.25,309.05 113.50,309.05 113.75,309.05 114.00,309.05" fill="none" stroke="#8e8e9e" stroke-width="0.6"/>
<polygon points="81.30,309.30 81.50,309.21 81.75,309.11 82.00,308.92 82.25,308.56 82.50,307.95 82.75,306.95 83.00,305.42 83.25,303.22 83.50,300.26 83.75,296.52 84.00,292.14 84.25,287.42 84.50,282.82 84.75,278.85 85.00,276.06 85.25,274.84 85.50,275.37 85.75,277.57 86.00,281.12 86.25,285.54 86.50,290.27 86.75,294.83 87.00,298.85 87.25,302.13 87.50,304.63 87.75,306.41 88.00,307.60 88.25,308.35 88.50,308.80 88.75,309.05 89.00,309.18 89.25,309.25 89.30,309.30" fill="#df1c1c" stroke="#c81010" stroke-width="0.35"/>
<polygon points="96.10,309.30 96.25,309.29 96.50,309.28 96.75,309.27 97.00,309.26 97.25,309.24 97.50,309.22 97.75,309.18 98.00,309.14 98.25,309.09 98.50,309.02 98.75,308.93 99.00,308.82 99.25,308.69 99.50,308.53 99.75,308.34 100.00,308.12 100.25,307.87 100.50,307.58 100.75,307.25 101.00,306.90 101.25,306.52 101.50,306.12 101.75,305.71 102.00,305.29 102.25,304.88 102.50,304.49 102.75,304.12 103.00,303.80 103.25,303.53 103.50,303.32 103.75,303.17 104.00,303.11 104.25,303.11 104.50,303.20 104.75,303.35 105.00,303.58 105.25,303.86 105.50,304.19 105.75,304.56 106.00,304.96 106.25,305.37 106.50,305.79 106.75,306.20 107.00,306.60 107.25,306.97 107.50,307.32 107.75,307.64 108.00,307.92 108.25,308.17 108.50,308.38 108.75,308.57 109.00,308.72 109.25,308.85 109.50,308.95 109.75,309.04 110.00,309.10 110.25,309.15 110.50,309.19 110.75,309.22 111.00,309.24 111.25,309.26 111.50,309.27 111.75,309.28 112.00,309.29 112.10,309.30" fill="#df1c1c" stroke="#c81010" stroke-width="0.35"/>
<rect x="84.70" y="309.50" width="1.20" height="1.60" fill="#c00" />
<rect x="103.50" y="309.50" width="1.20" height="1.60" fill="#c00" />
<line x1="140.50" y1="264.30" x2="140.50" y2="309.20" stroke="#9a9a9a" stroke-width="0.7" />
<line x1="140.50" y1="309.20" x2="198.00" y2="309.20" stroke="#4a4a4a" stroke-width="0.9" />
<line x1="139.30" y1="268.30" x2="140.50" y2="268.30" stroke="#aaa" stroke-width="0.6" />
<line x1="139.30" y1="278.52" x2="140.50" y2="278.52" stroke="#aaa" stroke-width="0.6" />
<line x1="139.30" y1="288.75" x2="140.50" y2="288.75" stroke="#aaa" stroke-width="0.6" />
<line x1="139.30" y1="298.98" x2="140.50" y2="298.98" stroke="#aaa" stroke-width="0.6" />
<rect x="135.00" y="281.75" width="1.00" height="7.00" fill="#c9c9c9" />
<rect x="140.70" y="311.20" width="1.60" height="0.90" fill="#c4c4c4" />
<rect x="154.57" y="311.20" width="1.60" height="0.90" fill="#c4c4c4" />
<rect x="168.45" y="311.20" width="1.60" height="0.90" fill="#c4c4c4" />
<rect x="182.32" y="311.20" width="1.60" height="0.90" fill="#c4c4c4" />
<rect x="196.20" y="311.20" width="1.60" height="0.90" fill="#c4c4c4" />
<rect x="159.30" y="313.40" width="24.80" height="0.90" fill="#d0d0d0" />
<polygon points="163.50,309.20 163.50,308.52 163.75,308.17 164.00,307.70 164.25,307.11 164.50,306.46 164.75,305.81 165.00,305.25 165.25,304.82 165.50,304.52 165.75,304.33 166.00,304.21 166.25,304.15 166.50,304.13 166.75,304.13 167.00,304.14 167.25,304.16 167.50,304.18 167.75,304.21 168.00,304.24 168.25,304.26 168.50,304.29 168.75,304.31 169.00,304.34 169.25,304.36 169.50,304.38 169.75,304.40 170.00,304.42 170.25,304.44 170.50,304.45 170.75,304.47 171.00,304.48 171.25,304.50 171.50,304.51 171.75,304.52 172.00,304.53 172.25,304.54 172.50,304.54 172.75,304.55 173.00,304.55 173.25,304.55 173.50,304.56 173.75,304.56 174.00,304.56 174.25,304.55 174.50,304.55 174.75,304.55 175.00,304.54 175.25,304.53 175.50,304.52 175.75,304.51 176.00,304.50 176.25,304.49 176.50,304.48 176.75,304.46 177.00,304.45 177.25,304.43 177.50,304.41 177.75,304.39 178.00,304.37 178.25,304.35 178.50,304.33 178.75,304.30 179.00,304.28 179.25,304.25 179.50,304.23 179.75,304.20 180.00,304.17 180.25,304.14 180.50,304.11 180.75,304.08 181.00,304.05 181.25,304.02 181.50,304.00 181.75,303.97 182.00,303.95 182.25,303.94 182.50,303.93 182.75,303.94 183.00,303.95 183.25,303.99 183.50,304.04 183.75,304.13 184.00,304.25 184.25,304.40 184.50,304.60 184.75,304.85 185.00,305.14 185.25,305.48 185.50,305.85 185.75,306.24 186.00,306.63 186.25,307.01 186.50,307.37 186.75,307.69 187.00,307.98 187.25,308.22 187.50,308.42 187.75,308.58 188.00,308.72 188.25,308.82 188.50,308.91 188.75,308.97 189.00,309.03 189.10,309.20" fill="url(#hatch)"/>
<polyline points="165.00,305.25 165.25,304.82 165.50,304.52 165.75,304.33 166.00,304.21 166.25,304.15 166.50,304.13 166.75,304.13 167.00,304.14 167.25,304.16 167.50,304.18 167.75,304.21 168.00,304.24 168.25,304.26 168.50,304.29 168.75,304.31 169.00,304.34 169.25,304.36 169.50,304.38 169.75,304.40 170.00,304.42 170.25,304.44 170.50,304.45 170.75,304.47 171.00,304.48 171.25,304.50 171.50,304.51 171.75,304.52 172.00,304.53 172.25,304.54 172.50,304.54 172.75,304.55 173.00,304.55 173.25,304.55 173.50,304.56 173.75,304.56 174.00,304.56 174.25,304.55 174.50,304.55 174.75,304.54 175.00,304.54 175.25,304.53 175.50,304.52 175.75,304.51 176.00,304.50 176.25,304.49 176.50,304.47 176.75,304.45 177.00,304.43 177.25,304.41 177.50,304.39 177.75,304.36 178.00,304.32 178.25,304.29 178.50,304.24 178.75,304.19 179.00,304.13 179.25,304.06 179.50,303.99 179.75,303.90 180.00,303.80 180.25,303.70 180.50,303.58 180.75,303.45 181.00,303.31 181.25,303.16 181.50,303.01 181.75,302.86 182.00,302.71 182.25,302.57 182.50,302.44 182.75,302.33 183.00,302.25 183.25,302.20 183.50,302.19 183.75,302.23 184.00,302.33 184.25,302.49 184.50,302.71 184.75,303.01 185.00,303.37 185.25,303.80 185.50,304.27 185.75,304.77 186.00,305.29 186.25,305.80 186.50,306.28 186.75,306.73 187.00,307.14 187.25,307.50 187.50,307.81 187.75,308.07 188.00,308.29 188.25,308.47 188.50,308.62" fill="none" stroke="#7d7dd6" stroke-width="0.55"/>
<polyline points="154.50,308.95 154.75,308.95 155.00,308.95 155.25,308.95 155.50,308.95 155.75,308.95 156.00,308.95 156.25,308.95 156.50,308.95 156.75,308.95 157.00,308.95 157.25,308.95 157.50,308.95 157.75,308.95 158.00,308.95 158.25,308.95 158.50,308.95 158.75,308.94 159.00,308.93 159.25,308.90 159.50,308.84 159.75,308.71 160.00,308.46 160.25,308.01 160.50,307.23 160.75,305.96 161.00,304.02 161.25,301.23 161.50,297.45 161.75,292.70 162.00,287.12 162.25,281.11 162.50,275.22 162.75,270.13 163.00,266.48 163.25,264.77 163.50,265.20 163.75,267.66 164.00,271.71 164.25,276.74 164.50,282.10 164.75,287.26 165.00,291.81 165.25,295.56 165.50,298.43 165.75,300.51 166.00,301.91 166.25,302.80 166.50,303.35 166.75,303.66 167.00,303.84 167.25,303.94 167.50,304.01 167.75,304.05 168.00,304.08 168.25,304.11 168.50,304.14 168.75,304.16 169.00,304.18 169.25,304.21 169.50,304.23 169.75,304.25 170.00,304.26 170.25,304.28 170.50,304.30 170.75,304.31 171.00,304.33 171.25,304.34 171.50,304.35 171.75,304.36 172.00,304.37 172.25,304.38 172.50,304.38 172.75,304.39 173.00,304.39 173.25,304.40 173.50,304.40 173.75,304.40 174.00,304.40 174.25,304.40 174.50,304.39 174.75,304.39 175.00,304.38 175.25,304.37 175.50,304.37 175.75,304.36 176.00,304.34 176.25,304.33 176.50,304.31 176.75,304.30 177.00,304.27 177.25,304.25 177.50,304.22 177.75,304.19 178.00,304.15 178.25,304.11 178.50,304.06 178.75,304.00 179.00,303.92 179.25,303.84 179.50,303.75 179.75,303.64 180.00,303.52 180.25,303.38 180.50,303.23 180.75,303.06 181.00,302.88 181.25,302.69 181.50,302.50 181.75,302.30 182.00,302.10 182.25,301.91 182.50,301.74 182.75,301.59 183.00,301.47 183.25,301.38 183.50,301.35 183.75,301.37 184.00,301.46 184.25,301.61 184.50,301.85 184.75,302.16 185.00,302.54 185.25,302.99 185.50,303.49 185.75,304.03 186.00,304.58 186.25,305.13 186.50,305.66 186.75,306.15 187.00,306.60 187.25,307.00 187.50,307.34 187.75,307.64 188.00,307.89 188.25,308.10 188.50,308.27 188.75,308.42 189.00,308.53 189.25,308.63 189.50,308.70 189.75,308.76 190.00,308.81 190.25,308.84 190.50,308.87 190.75,308.89 191.00,308.91 191.25,308.92 191.50,308.93 191.75,308.93 192.00,308.94 192.25,308.94 192.50,308.94 192.75,308.95 193.00,308.95 193.25,308.95 193.50,308.95 193.75,308.95 194.00,308.95" fill="none" stroke="#8e8e9e" stroke-width="0.6"/>
<polygon points="159.30,309.20 159.50,309.10 159.75,309.00 160.00,308.79 160.25,308.41 160.50,307.75 160.75,306.67 161.00,305.03 161.25,302.67 161.50,299.47 161.75,295.45 162.00,290.75 162.25,285.68 162.50,280.72 162.75,276.46 163.00,273.45 163.25,272.14 163.50,272.71 163.75,275.08 164.00,278.90 164.25,283.65 164.50,288.74 164.75,293.64 165.00,297.96 165.25,301.49 165.50,304.18 165.75,306.09 166.00,307.38 166.25,308.18 166.50,308.66 166.75,308.93 167.00,309.07 167.25,309.14 167.30,309.20" fill="#df1c1c" stroke="#c81010" stroke-width="0.35"/>
<polygon points="176.10,309.20 176.25,309.19 176.50,309.18 176.75,309.18 177.00,309.17 177.25,309.15 177.50,309.14 177.75,309.11 178.00,309.08 178.25,309.04 178.50,308.98 178.75,308.92 179.00,308.83 179.25,308.73 179.50,308.61 179.75,308.46 180.00,308.29 180.25,308.09 180.50,307.87 180.75,307.62 181.00,307.34 181.25,307.05 181.50,306.74 181.75,306.42 182.00,306.09 182.25,305.78 182.50,305.47 182.75,305.19 183.00,304.94 183.25,304.73 183.50,304.57 183.75,304.46 184.00,304.40 184.25,304.41 184.50,304.48 184.75,304.60 185.00,304.77 185.25,304.99 185.50,305.24 185.75,305.53 186.00,305.84 186.25,306.16 186.50,306.48 186.75,306.80 187.00,307.11 187.25,307.40 187.50,307.67 187.75,307.91 188.00,308.13 188.25,308.32 188.50,308.49 188.75,308.63 189.00,308.75 189.25,308.85 189.50,308.93 189.75,308.99 190.00,309.05 190.25,309.09 190.50,309.12 190.75,309.14 191.00,309.16 191.25,309.17 191.50,309.18 191.75,309.19 192.00,309.19 192.10,309.20" fill="#df1c1c" stroke="#c81010" stroke-width="0.35"/>
<rect x="162.70" y="309.40" width="1.20" height="1.60" fill="#c00" />
<rect x="183.50" y="309.40" width="1.20" height="1.60" fill="#c00" />
<line x1="214.10" y1="260.00" x2="214.10" y2="308.60" stroke="#9a9a9a" stroke-width="0.7" />
<line x1="214.10" y1="308.60" x2="272.00" y2="308.60" stroke="#4a4a4a" stroke-width="0.9" />
<line x1="212.90" y1="264.00" x2="214.10" y2="264.00" stroke="#aaa" stroke-width="0.6" />
<line x1="212.90" y1="275.15" x2="214.10" y2="275.15" stroke="#aaa" stroke-width="0.6" />
<line x1="212.90" y1="286.30" x2="214.10" y2="286.30" stroke="#aaa" stroke-width="0.6" />
<line x1="212.90" y1="297.45" x2="214.10" y2="297.45" stroke="#aaa" stroke-width="0.6" />
<rect x="208.60" y="279.30" width="1.00" height="7.00" fill="#c9c9c9" />
<rect x="214.30" y="310.60" width="1.60" height="0.90" fill="#c4c4c4" />
<rect x="228.27" y="310.60" width="1.60" height="0.90" fill="#c4c4c4" />
<rect x="242.25" y="310.60" width="1.60" height="0.90" fill="#c4c4c4" />
<rect x="256.22" y="310.60" width="1.60" height="0.90" fill="#c4c4c4" />
<rect x="270.20" y="310.60" width="1.60" height="0.90" fill="#c4c4c4" />
<rect x="233.30" y="312.80" width="23.50" height="0.90" fill="#d0d0d0" />
<polygon points="237.50,308.60 237.60,307.86 237.85,307.49 238.10,307.01 238.35,306.43 238.60,305.82 238.85,305.25 239.10,304.78 239.35,304.44 239.60,304.20 239.85,304.06 240.10,303.98 240.35,303.94 240.60,303.93 240.85,303.94 241.10,303.95 241.35,303.97 241.60,304.00 241.85,304.02 242.10,304.05 242.35,304.07 242.60,304.09 242.85,304.12 243.10,304.14 243.35,304.16 243.60,304.17 243.85,304.19 244.10,304.21 244.35,304.22 244.60,304.24 244.85,304.25 245.10,304.26 245.35,304.27 245.60,304.28 245.85,304.28 246.10,304.29 246.35,304.29 246.60,304.30 246.85,304.30 247.10,304.30 247.35,304.30 247.60,304.30 247.85,304.29 248.10,304.29 248.35,304.28 248.60,304.27 248.85,304.27 249.10,304.26 249.35,304.24 249.60,304.23 249.85,304.22 250.10,304.20 250.35,304.19 250.60,304.17 250.85,304.15 251.10,304.13 251.35,304.11 251.60,304.08 251.85,304.06 252.10,304.04 252.35,304.01 252.60,303.98 252.85,303.96 253.10,303.93 253.35,303.90 253.60,303.87 253.85,303.84 254.10,303.82 254.35,303.79 254.60,303.77 254.85,303.75 255.10,303.74 255.35,303.74 255.60,303.75 255.85,303.77 256.10,303.81 256.35,303.87 256.60,303.97 256.85,304.09 257.10,304.26 257.35,304.47 257.60,304.72 257.85,305.02 258.10,305.35 258.35,305.70 258.60,306.06 258.85,306.42 259.10,306.77 259.35,307.08 259.60,307.36 259.85,307.60 260.10,307.80 260.35,307.97 260.60,308.10 260.85,308.21 261.10,308.30 261.35,308.37 261.60,308.42 261.80,308.60" fill="url(#hatch)"/>
<polyline points="239.10,304.78 239.35,304.44 239.60,304.20 239.85,304.06 240.10,303.98 240.35,303.94 240.60,303.93 240.85,303.94 241.10,303.95 241.35,303.97 241.60,304.00 241.85,304.02 242.10,304.05 242.35,304.07 242.60,304.09 242.85,304.12 243.10,304.14 243.35,304.16 243.60,304.17 243.85,304.19 244.10,304.21 244.35,304.22 244.60,304.24 244.85,304.25 245.10,304.26 245.35,304.27 245.60,304.28 245.85,304.28 246.10,304.29 246.35,304.29 246.60,304.30 246.85,304.30 247.10,304.30 247.35,304.30 247.60,304.30 247.85,304.29 248.10,304.29 248.35,304.28 248.60,304.27 248.85,304.26 249.10,304.25 249.35,304.24 249.60,304.22 249.85,304.20 250.10,304.18 250.35,304.15 250.60,304.12 250.85,304.08 251.10,304.04 251.35,303.99 251.60,303.94 251.85,303.87 252.10,303.79 252.35,303.70 252.60,303.61 252.85,303.49 253.10,303.37 253.35,303.23 253.60,303.09 253.85,302.93 254.10,302.77 254.35,302.60 254.60,302.43 254.85,302.27 255.10,302.12 255.35,301.98 255.60,301.87 255.85,301.79 256.10,301.75 256.35,301.76 256.60,301.82 256.85,301.94 257.10,302.12 257.35,302.37 257.60,302.70 257.85,303.08 258.10,303.52 258.35,304.00 258.60,304.50 258.85,305.00 259.10,305.48 259.35,305.94 259.60,306.36 259.85,306.74 260.10,307.06 260.35,307.34 260.60,307.58 260.85,307.78 261.10,307.95" fill="none" stroke="#7d7dd6" stroke-width="0.55"/>
<polyline points="228.35,308.35 228.60,308.35 228.85,308.35 229.10,308.35 229.35,308.35 229.60,308.35 229.85,308.35 230.10,308.35 230.35,308.35 230.60,308.35 230.85,308.35 231.10,308.35 231.35,308.35 231.60,308.35 231.85,308.35 232.10,308.35 232.35,308.35 232.60,308.34 232.85,308.34 233.10,308.32 233.35,308.27 233.60,308.18 233.85,308.00 234.10,307.66 234.35,307.04 234.60,306.01 234.85,304.36 235.10,301.90 235.35,298.45 235.60,293.91 235.85,288.36 236.10,282.05 236.35,275.50 236.60,269.36 236.85,264.38 237.10,261.23 237.35,260.33 237.60,261.76 237.85,265.25 238.10,270.25 238.35,276.04 238.60,281.95 238.85,287.43 239.10,292.13 239.35,295.89 239.60,298.69 239.85,300.66 240.10,301.96 240.35,302.77 240.60,303.25 240.85,303.52 241.10,303.67 241.35,303.76 241.60,303.82 241.85,303.85 242.10,303.88 242.35,303.91 242.60,303.93 242.85,303.95 243.10,303.98 243.35,304.00 243.60,304.01 243.85,304.03 244.10,304.05 244.35,304.06 244.60,304.07 244.85,304.09 245.10,304.10 245.35,304.11 245.60,304.11 245.85,304.12 246.10,304.13 246.35,304.13 246.60,304.13 246.85,304.14 247.10,304.14 247.35,304.13 247.60,304.13 247.85,304.13 248.10,304.12 248.35,304.12 248.60,304.11 248.85,304.10 249.10,304.08 249.35,304.07 249.60,304.05 249.85,304.03 250.10,304.01 250.35,303.98 250.60,303.94 250.85,303.90 251.10,303.85 251.35,303.79 251.60,303.72 251.85,303.64 252.10,303.54 252.35,303.43 252.60,303.31 252.85,303.16 253.10,303.00 253.35,302.83 253.60,302.64 253.85,302.43 254.10,302.22 254.35,302.00 254.60,301.78 254.85,301.56 255.10,301.36 255.35,301.17 255.60,301.02 255.85,300.90 256.10,300.83 256.35,300.81 256.60,300.85 256.85,300.97 257.10,301.15 257.35,301.42 257.60,301.76 257.85,302.18 258.10,302.65 258.35,303.17 258.60,303.71 258.85,304.26 259.10,304.79 259.35,305.30 259.60,305.76 259.85,306.18 260.10,306.55 260.35,306.87 260.60,307.15 260.85,307.38 261.10,307.58 261.35,307.74 261.60,307.87 261.85,307.97 262.10,308.06 262.35,308.13 262.60,308.18 262.85,308.22 263.10,308.25 263.35,308.28 263.60,308.30 263.85,308.31 264.10,308.32 264.35,308.33 264.60,308.34 264.85,308.34 265.10,308.34 265.35,308.34 265.60,308.35 265.85,308.35 266.10,308.35 266.35,308.35 266.60,308.35" fill="none" stroke="#8e8e9e" stroke-width="0.6"/>
<polygon points="233.30,308.60 233.35,308.54 233.60,308.47 233.85,308.33 234.10,308.06 234.35,307.57 234.60,306.76 234.85,305.47 235.10,303.54 235.35,300.83 235.60,297.27 235.85,292.91 236.10,287.97 236.35,282.84 236.60,278.06 236.85,274.20 237.10,271.81 237.35,271.24 237.60,272.57 237.85,275.59 238.10,279.89 238.35,284.89 238.60,290.00 238.85,294.74 239.10,298.80 239.35,302.01 239.60,304.40 239.85,306.05 240.10,307.13 240.35,307.80 240.60,308.18 240.85,308.40 241.10,308.50 241.30,308.60" fill="#df1c1c" stroke="#c81010" stroke-width="0.35"/>
<polygon points="248.80,308.60 248.85,308.59 249.10,308.58 249.35,308.58 249.60,308.57 249.85,308.55 250.10,308.54 250.35,308.51 250.60,308.48 250.85,308.44 251.10,308.38 251.35,308.31 251.60,308.23 251.85,308.12 252.10,307.99 252.35,307.84 252.60,307.65 252.85,307.44 253.10,307.20 253.35,306.93 253.60,306.64 253.85,306.31 254.10,305.97 254.35,305.62 254.60,305.25 254.85,304.89 255.10,304.54 255.35,304.21 255.60,303.92 255.85,303.66 256.10,303.46 256.35,303.31 256.60,303.22 256.85,303.20 257.10,303.25 257.35,303.36 257.60,303.53 257.85,303.76 258.10,304.03 258.35,304.34 258.60,304.68 258.85,305.03 259.10,305.40 259.35,305.76 259.60,306.11 259.85,306.45 260.10,306.76 260.35,307.04 260.60,307.30 260.85,307.53 261.10,307.73 261.35,307.90 261.60,308.05 261.85,308.16 262.10,308.26 262.35,308.34 262.60,308.41 262.85,308.45 263.10,308.49 263.35,308.52 263.60,308.54 263.85,308.56 264.10,308.57 264.35,308.58 264.60,308.59 264.80,308.60" fill="#df1c1c" stroke="#c81010" stroke-width="0.35"/>
<rect x="236.70" y="308.80" width="1.20" height="1.60" fill="#c00" />
<rect x="256.20" y="308.80" width="1.20" height="1.60" fill="#c00" />
<line x1="300.50" y1="266.20" x2="300.50" y2="311.80" stroke="#9a9a9a" stroke-width="0.7" />
<line x1="300.50" y1="311.80" x2="358.30" y2="311.80" stroke="#4a4a4a" stroke-width="0.9" />
<line x1="299.30" y1="270.20" x2="300.50" y2="270.20" stroke="#aaa" stroke-width="0.6" />
<line x1="299.30" y1="280.60" x2="300.50" y2="280.60" stroke="#aaa" stroke-width="0.6" />
<line x1="299.30" y1="291.00" x2="300.50" y2="291.00" stroke="#aaa" stroke-width="0.6" />
<line x1="299.30" y1="301.40" x2="300.50" y2="301.40" stroke="#aaa" stroke-width="0.6" />
<rect x="295.00" y="284.00" width="1.00" height="7.00" fill="#c9c9c9" />
<rect x="300.70" y="313.80" width="1.60" height="0.90" fill="#c4c4c4" />
<rect x="314.65" y="313.80" width="1.60" height="0.90" fill="#c4c4c4" />
<rect x="328.60" y="313.80" width="1.60" height="0.90" fill="#c4c4c4" />
<rect x="342.55" y="313.80" width="1.60" height="0.90" fill="#c4c4c4" />
<rect x="356.50" y="313.80" width="1.60" height="0.90" fill="#c4c4c4" />
<rect x="319.30" y="316.00" width="25.50" height="0.90" fill="#d0d0d0" />
<polygon points="323.50,311.80 323.50,310.38 323.75,309.65 324.00,308.66 324.25,307.42 324.50,306.05 324.75,304.70 325.00,303.52 325.25,302.62 325.50,301.98 325.75,301.57 326.00,301.34 326.25,301.21 326.50,301.16 326.75,301.16 327.00,301.18 327.25,301.22 327.50,301.27 327.75,301.32 328.00,301.38 328.25,301.43 328.50,301.48 328.75,301.53 329.00,301.58 329.25,301.63 329.50,301.68 329.75,301.72 330.00,301.76 330.25,301.80 330.50,301.84 330.75,301.87 331.00,301.90 331.25,301.93 331.50,301.95 331.75,301.98 332.00,302.00 332.25,302.02 332.50,302.04 332.75,302.05 333.00,302.06 333.25,302.07 333.50,302.08 333.75,302.08 334.00,302.08 334.25,302.08 334.50,302.08 334.75,302.07 335.00,302.06 335.25,302.05 335.50,302.04 335.75,302.03 336.00,302.01 336.25,301.99 336.50,301.96 336.75,301.94 337.00,301.91 337.25,301.88 337.50,301.85 337.75,301.81 338.00,301.78 338.25,301.74 338.50,301.70 338.75,301.65 339.00,301.61 339.25,301.56 339.50,301.51 339.75,301.45 340.00,301.40 340.25,301.34 340.50,301.28 340.75,301.22 341.00,301.16 341.25,301.10 341.50,301.04 341.75,300.98 342.00,300.93 342.25,300.88 342.50,300.83 342.75,300.79 343.00,300.77 343.25,300.76 343.50,300.78 343.75,300.82 344.00,300.90 344.25,301.03 344.50,301.23 344.75,301.49 345.00,301.84 345.25,302.28 345.50,302.82 345.75,303.46 346.00,304.18 346.25,304.96 346.50,305.78 346.75,306.60 347.00,307.39 347.25,308.12 347.50,308.78 347.75,309.36 348.00,309.84 348.25,310.25 348.50,310.58 348.75,310.85 349.00,311.06 349.25,311.22 349.50,311.35 349.75,311.46 349.80,311.80" fill="url(#hatch)"/>
<polyline points="325.00,303.52 325.25,302.62 325.50,301.98 325.75,301.57 326.00,301.34 326.25,301.21 326.50,301.16 326.75,301.16 327.00,301.18 327.25,301.22 327.50,301.27 327.75,301.32 328.00,301.38 328.25,301.43 328.50,301.48 328.75,301.53 329.00,301.58 329.25,301.63 329.50,301.68 329.75,301.72 330.00,301.76 330.25,301.80 330.50,301.84 330.75,301.87 331.00,301.90 331.25,301.93 331.50,301.95 331.75,301.98 332.00,302.00 332.25,302.02 332.50,302.03 332.75,302.05 333.00,302.06 333.25,302.07 333.50,302.07 333.75,302.08 334.00,302.08 334.25,302.08 334.50,302.07 334.75,302.06 335.00,302.05 335.25,302.03 335.50,302.02 335.75,301.99 336.00,301.96 336.25,301.93 336.50,301.89 336.75,301.85 337.00,301.79 337.25,301.73 337.50,301.66 337.75,301.59 338.00,301.50 338.25,301.39 338.50,301.28 338.75,301.15 339.00,301.01 339.25,300.85 339.50,300.68 339.75,300.49 340.00,300.28 340.25,300.06 340.50,299.82 340.75,299.56 341.00,299.30 341.25,299.02 341.50,298.74 341.75,298.45 342.00,298.17 342.25,297.89 342.50,297.62 342.75,297.37 343.00,297.14 343.25,296.95 343.50,296.80 343.75,296.70 344.00,296.67 344.25,296.71 344.50,296.85 344.75,297.09 345.00,297.45 345.25,297.93 345.50,298.55 345.75,299.29 346.00,300.14 346.25,301.08 346.50,302.07 346.75,303.09 347.00,304.09 347.25,305.05 347.50,305.93 347.75,306.73 348.00,307.45 348.25,308.08 348.50,308.63 348.75,309.11 349.00,309.52 349.25,309.87" fill="none" stroke="#7d7dd6" stroke-width="0.55"/>
<polyline points="314.50,311.55 314.75,311.55 315.00,311.55 315.25,311.55 315.50,311.55 315.75,311.55 316.00,311.55 316.25,311.55 316.50,311.55 316.75,311.55 317.00,311.55 317.25,311.55 317.50,311.55 317.75,311.55 318.00,311.54 318.25,311.54 318.50,311.52 318.75,311.49 319.00,311.43 319.25,311.32 319.50,311.12 319.75,310.77 320.00,310.21 320.25,309.32 320.50,307.99 320.75,306.09 321.00,303.50 321.25,300.14 321.50,296.02 321.75,291.24 322.00,286.02 322.25,280.71 322.50,275.73 322.75,271.53 323.00,268.53 323.25,266.99 323.50,267.02 323.75,268.48 324.00,271.11 324.25,274.52 324.50,278.35 324.75,282.29 325.00,286.11 325.25,289.61 325.50,292.64 325.75,295.13 326.00,297.06 326.25,298.48 326.50,299.48 326.75,300.15 327.00,300.60 327.25,300.89 327.50,301.08 327.75,301.20 328.00,301.30 328.25,301.37 328.50,301.43 328.75,301.49 329.00,301.54 329.25,301.59 329.50,301.63 329.75,301.67 330.00,301.71 330.25,301.75 330.50,301.78 330.75,301.82 331.00,301.85 331.25,301.88 331.50,301.90 331.75,301.92 332.00,301.95 332.25,301.96 332.50,301.98 332.75,301.99 333.00,302.00 333.25,302.01 333.50,302.02 333.75,302.02 334.00,302.02 334.25,302.02 334.50,302.01 334.75,302.00 335.00,301.99 335.25,301.97 335.50,301.95 335.75,301.92 336.00,301.89 336.25,301.86 336.50,301.81 336.75,301.76 337.00,301.70 337.25,301.63 337.50,301.54 337.75,301.45 338.00,301.34 338.25,301.22 338.50,301.08 338.75,300.92 339.00,300.74 339.25,300.54 339.50,300.32 339.75,300.08 340.00,299.82 340.25,299.53 340.50,299.23 340.75,298.90 341.00,298.56 341.25,298.21 341.50,297.84 341.75,297.47 342.00,297.10 342.25,296.73 342.50,296.38 342.75,296.05 343.00,295.75 343.25,295.49 343.50,295.27 343.75,295.12 344.00,295.05 344.25,295.06 344.50,295.17 344.75,295.40 345.00,295.75 345.25,296.24 345.50,296.87 345.75,297.64 346.00,298.53 346.25,299.51 346.50,300.55 346.75,301.63 347.00,302.69 347.25,303.71 347.50,304.67 347.75,305.55 348.00,306.34 348.25,307.05 348.50,307.67 348.75,308.22 349.00,308.70 349.25,309.12 349.50,309.49 349.75,309.80 350.00,310.08 350.25,310.32 350.50,310.52 350.75,310.70 351.00,310.84 351.25,310.97 351.50,311.08 351.75,311.17 352.00,311.24 352.25,311.30 352.50,311.35 352.75,311.39 353.00,311.43 353.25,311.46 353.50,311.48 353.75,311.49 354.00,311.51 354.25,311.52 354.50,311.53 354.75,311.53" fill="none" stroke="#8e8e9e" stroke-width="0.6"/>
<polygon points="319.30,311.80 319.50,311.47 319.75,311.20 320.00,310.77 320.25,310.09 320.50,309.07 320.75,307.61 321.00,305.62 321.25,303.04 321.50,299.89 321.75,296.22 322.00,292.24 322.25,288.19 322.50,284.42 322.75,281.30 323.00,279.15 323.25,278.23 323.50,278.63 323.75,280.31 324.00,283.08 324.25,286.63 324.50,290.61 324.75,294.65 325.00,298.47 325.25,301.85 325.50,304.66 325.75,306.88 326.00,308.54 326.25,309.73 326.50,310.53 326.75,311.05 327.00,311.38 327.25,311.57 327.30,311.80" fill="#df1c1c" stroke="#c81010" stroke-width="0.35"/>
<polygon points="336.80,311.80 337.00,311.50 337.25,311.43 337.50,311.34 337.75,311.23 338.00,311.10 338.25,310.94 338.50,310.76 338.75,310.55 339.00,310.31 339.25,310.04 339.50,309.73 339.75,309.39 340.00,309.00 340.25,308.59 340.50,308.14 340.75,307.65 341.00,307.14 341.25,306.60 341.50,306.04 341.75,305.47 342.00,304.90 342.25,304.33 342.50,303.77 342.75,303.23 343.00,302.73 343.25,302.26 343.50,301.85 343.75,301.50 344.00,301.21 344.25,301.00 344.50,300.86 344.75,300.80 345.00,300.83 345.25,300.93 345.50,301.12 345.75,301.37 346.00,301.70 346.25,302.09 346.50,302.54 346.75,303.03 347.00,303.55 347.25,304.10 347.50,304.67 347.75,305.24 348.00,305.82 348.25,306.38 348.50,306.93 348.75,307.45 349.00,307.95 349.25,308.41 349.50,308.84 349.75,309.24 350.00,309.60 350.25,309.92 350.50,310.21 350.75,310.46 351.00,310.68 351.25,310.87 351.50,311.04 351.75,311.18 352.00,311.30 352.25,311.39 352.50,311.48 352.75,311.54 352.80,311.80" fill="#df1c1c" stroke="#c81010" stroke-width="0.35"/>
<rect x="322.70" y="312.00" width="1.20" height="1.60" fill="#c00" />
<rect x="344.20" y="312.00" width="1.20" height="1.60" fill="#c00" />
<line x1="377.40" y1="266.00" x2="377.40" y2="311.80" stroke="#9a9a9a" stroke-width="0.7" />
<line x1="377.40" y1="311.80" x2="436.00" y2="311.80" stroke="#4a4a4a" stroke-width="0.9" />
<line x1="376.20" y1="270.00" x2="377.40" y2="270.00" stroke="#aaa" stroke-width="0.6" />
<line x1="376.20" y1="280.45" x2="377.40" y2="280.45" stroke="#aaa" stroke-width="0.6" />
<line x1="376.20" y1="290.90" x2="377.40" y2="290.90" stroke="#aaa" stroke-width="0.6" />
<line x1="376.20" y1="301.35" x2="377.40" y2="301.35" stroke="#aaa" stroke-width="0.6" />
<rect x="371.90" y="283.90" width="1.00" height="7.00" fill="#c9c9c9" />
<rect x="377.60" y="313.80" width="1.60" height="0.90" fill="#c4c4c4" />
<rect x="391.75" y="313.80" width="1.60" height="0.90" fill="#c4c4c4" />
<rect x="405.90" y="313.80" width="1.60" height="0.90" fill="#c4c4c4" />
<rect x="420.05" y="313.80" width="1.60" height="0.90" fill="#c4c4c4" />
<rect x="434.20" y="313.80" width="1.60" height="0.90" fill="#c4c4c4" />
<rect x="394.90" y="316.00" width="24.20" height="0.90" fill="#d0d0d0" />
<polygon points="399.10,311.80 399.15,311.08 399.40,310.71 399.65,310.22 399.90,309.63 400.15,308.98 400.40,308.36 400.65,307.84 400.90,307.44 401.15,307.17 401.40,307.00 401.65,306.90 401.90,306.85 402.15,306.84 402.40,306.84 402.65,306.85 402.90,306.87 403.15,306.90 403.40,306.92 403.65,306.95 403.90,306.97 404.15,307.00 404.40,307.02 404.65,307.05 404.90,307.07 405.15,307.09 405.40,307.11 405.65,307.13 405.90,307.14 406.15,307.16 406.40,307.17 406.65,307.18 406.90,307.20 407.15,307.21 407.40,307.22 407.65,307.22 407.90,307.23 408.15,307.23 408.40,307.24 408.65,307.24 408.90,307.24 409.15,307.24 409.40,307.24 409.65,307.24 409.90,307.23 410.15,307.23 410.40,307.22 410.65,307.21 410.90,307.20 411.15,307.19 411.40,307.18 411.65,307.17 411.90,307.15 412.15,307.14 412.40,307.12 412.65,307.10 412.90,307.08 413.15,307.06 413.40,307.04 413.65,307.02 413.90,307.00 414.15,306.97 414.40,306.94 414.65,306.92 414.90,306.89 415.15,306.86 415.40,306.83 415.65,306.80 415.90,306.77 416.15,306.74 416.40,306.72 416.65,306.69 416.90,306.67 417.15,306.65 417.40,306.64 417.65,306.64 417.90,306.65 418.15,306.67 418.40,306.72 418.65,306.79 418.90,306.89 419.15,307.02 419.40,307.20 419.65,307.43 419.90,307.70 420.15,308.01 420.40,308.36 420.65,308.73 420.90,309.12 421.15,309.50 421.40,309.86 421.65,310.19 421.90,310.49 422.15,310.74 422.40,310.96 422.65,311.13 422.90,311.28 423.15,311.39 423.40,311.48 423.65,311.55 423.90,311.61 424.10,311.80" fill="url(#hatch)"/>
<polyline points="400.65,307.84 400.90,307.44 401.15,307.17 401.40,307.00 401.65,306.90 401.90,306.85 402.15,306.84 402.40,306.84 402.65,306.85 402.90,306.87 403.15,306.90 403.40,306.92 403.65,306.95 403.90,306.97 404.15,307.00 404.40,307.02 404.65,307.05 404.90,307.07 405.15,307.09 405.40,307.11 405.65,307.13 405.90,307.14 406.15,307.16 406.40,307.17 406.65,307.18 406.90,307.20 407.15,307.21 407.40,307.22 407.65,307.22 407.90,307.23 408.15,307.23 408.40,307.24 408.65,307.24 408.90,307.24 409.15,307.24 409.40,307.24 409.65,307.24 409.90,307.23 410.15,307.23 410.40,307.22 410.65,307.21 410.90,307.20 411.15,307.19 411.40,307.17 411.65,307.16 411.90,307.14 412.15,307.11 412.40,307.09 412.65,307.06 412.90,307.02 413.15,306.97 413.40,306.92 413.65,306.86 413.90,306.79 414.15,306.71 414.40,306.61 414.65,306.50 414.90,306.37 415.15,306.23 415.40,306.06 415.65,305.89 415.90,305.69 416.15,305.49 416.40,305.27 416.65,305.05 416.90,304.83 417.15,304.62 417.40,304.42 417.65,304.23 417.90,304.08 418.15,303.97 418.40,303.90 418.65,303.89 418.90,303.94 419.15,304.07 419.40,304.27 419.65,304.55 419.90,304.92 420.15,305.35 420.40,305.85 420.65,306.40 420.90,306.97 421.15,307.55 421.40,308.11 421.65,308.64 421.90,309.12 422.15,309.56 422.40,309.95 422.65,310.28 422.90,310.56 423.15,310.80 423.40,311.00" fill="none" stroke="#7d7dd6" stroke-width="0.55"/>
<polyline points="389.90,311.55 390.15,311.55 390.40,311.55 390.65,311.55 390.90,311.55 391.15,311.55 391.40,311.55 391.65,311.55 391.90,311.55 392.15,311.55 392.40,311.55 392.65,311.55 392.90,311.55 393.15,311.55 393.40,311.55 393.65,311.55 393.90,311.55 394.15,311.55 394.40,311.54 394.65,311.53 394.90,311.50 395.15,311.43 395.40,311.30 395.65,311.04 395.90,310.59 396.15,309.80 396.40,308.55 396.65,306.64 396.90,303.94 397.15,300.33 397.40,295.86 397.65,290.69 397.90,285.22 398.15,279.97 398.40,275.57 398.65,272.57 398.90,271.39 399.15,272.15 399.40,274.68 399.65,278.54 399.90,283.16 400.15,287.97 400.40,292.51 400.65,296.47 400.90,299.68 401.15,302.11 401.40,303.84 401.65,305.01 401.90,305.74 402.15,306.18 402.40,306.44 402.65,306.58 402.90,306.67 403.15,306.72 403.40,306.76 403.65,306.79 403.90,306.82 404.15,306.84 404.40,306.87 404.65,306.89 404.90,306.91 405.15,306.93 405.40,306.95 405.65,306.97 405.90,306.99 406.15,307.00 406.40,307.01 406.65,307.03 406.90,307.04 407.15,307.05 407.40,307.06 407.65,307.06 407.90,307.07 408.15,307.08 408.40,307.08 408.65,307.08 408.90,307.08 409.15,307.08 409.40,307.08 409.65,307.08 409.90,307.07 410.15,307.07 410.40,307.06 410.65,307.05 410.90,307.04 411.15,307.03 411.40,307.01 411.65,306.99 411.90,306.97 412.15,306.95 412.40,306.92 412.65,306.88 412.90,306.84 413.15,306.79 413.40,306.72 413.65,306.65 413.90,306.56 414.15,306.45 414.40,306.33 414.65,306.19 414.90,306.02 415.15,305.84 415.40,305.63 415.65,305.39 415.90,305.14 416.15,304.87 416.40,304.59 416.65,304.29 416.90,304.00 417.15,303.71 417.40,303.43 417.65,303.19 417.90,302.97 418.15,302.80 418.40,302.69 418.65,302.65 418.90,302.68 419.15,302.80 419.40,303.01 419.65,303.31 419.90,303.71 420.15,304.18 420.40,304.73 420.65,305.33 420.90,305.97 421.15,306.61 421.40,307.24 421.65,307.83 421.90,308.39 422.15,308.89 422.40,309.33 422.65,309.72 422.90,310.06 423.15,310.34 423.40,310.58 423.65,310.78 423.90,310.95 424.15,311.08 424.40,311.19 424.65,311.27 424.90,311.34 425.15,311.39 425.40,311.43 425.65,311.46 425.90,311.48 426.15,311.50 426.40,311.52 426.65,311.53 426.90,311.53 427.15,311.54 427.40,311.54 427.65,311.54 427.90,311.55 428.15,311.55 428.40,311.55 428.65,311.55 428.90,311.55" fill="none" stroke="#8e8e9e" stroke-width="0.6"/>
<polygon points="394.90,311.80 394.90,311.75 395.15,311.70 395.40,311.58 395.65,311.35 395.90,310.95 396.15,310.26 396.40,309.15 396.65,307.48 396.90,305.10 397.15,301.93 397.40,297.99 397.65,293.45 397.90,288.65 398.15,284.06 398.40,280.24 398.65,277.69 398.90,276.80 399.15,277.69 399.40,280.24 399.65,284.06 399.90,288.65 400.15,293.45 400.40,297.99 400.65,301.93 400.90,305.10 401.15,307.48 401.40,309.15 401.65,310.26 401.90,310.95 402.15,311.35 402.40,311.58 402.65,311.70 402.90,311.75 402.90,311.80" fill="#df1c1c" stroke="#c81010" stroke-width="0.35"/>
<polygon points="411.10,311.80 411.15,311.79 411.40,311.78 411.65,311.77 411.90,311.76 412.15,311.74 412.40,311.71 412.65,311.68 412.90,311.63 413.15,311.58 413.40,311.50 413.65,311.41 413.90,311.29 414.15,311.14 414.40,310.96 414.65,310.75 414.90,310.50 415.15,310.22 415.40,309.89 415.65,309.52 415.90,309.11 416.15,308.67 416.40,308.20 416.65,307.71 416.90,307.21 417.15,306.72 417.40,306.24 417.65,305.79 417.90,305.38 418.15,305.03 418.40,304.75 418.65,304.55 418.90,304.43 419.15,304.40 419.40,304.47 419.65,304.62 419.90,304.85 420.15,305.16 420.40,305.54 420.65,305.96 420.90,306.43 421.15,306.91 421.40,307.41 421.65,307.91 421.90,308.39 422.15,308.85 422.40,309.28 422.65,309.67 422.90,310.02 423.15,310.34 423.40,310.61 423.65,310.84 423.90,311.04 424.15,311.20 424.40,311.34 424.65,311.45 424.90,311.53 425.15,311.60 425.40,311.65 425.65,311.69 425.90,311.72 426.15,311.75 426.40,311.76 426.65,311.77 426.90,311.78 427.10,311.80" fill="#df1c1c" stroke="#c81010" stroke-width="0.35"/>
<rect x="398.30" y="312.00" width="1.20" height="1.60" fill="#c00" />
<rect x="418.50" y="312.00" width="1.20" height="1.60" fill="#c00" />
<line x1="455.80" y1="265.00" x2="455.80" y2="311.50" stroke="#9a9a9a" stroke-width="0.7" />
<line x1="455.80" y1="311.50" x2="513.50" y2="311.50" stroke="#4a4a4a" stroke-width="0.9" />
<line x1="454.60" y1="269.00" x2="455.80" y2="269.00" stroke="#aaa" stroke-width="0.6" />
<line x1="454.60" y1="279.62" x2="455.80" y2="279.62" stroke="#aaa" stroke-width="0.6" />
<line x1="454.60" y1="290.25" x2="455.80" y2="290.25" stroke="#aaa" stroke-width="0.6" />
<line x1="454.60" y1="300.88" x2="455.80" y2="300.88" stroke="#aaa" stroke-width="0.6" />
<rect x="450.30" y="283.25" width="1.00" height="7.00" fill="#c9c9c9" />
<rect x="456.00" y="313.50" width="1.60" height="0.90" fill="#c4c4c4" />
<rect x="469.93" y="313.50" width="1.60" height="0.90" fill="#c4c4c4" />
<rect x="483.85" y="313.50" width="1.60" height="0.90" fill="#c4c4c4" />
<rect x="497.77" y="313.50" width="1.60" height="0.90" fill="#c4c4c4" />
<rect x="511.70" y="313.50" width="1.60" height="0.90" fill="#c4c4c4" />
<rect x="474.30" y="315.70" width="23.50" height="0.90" fill="#d0d0d0" />
<polygon points="478.50,311.50 478.55,310.58 478.80,310.12 479.05,309.50 479.30,308.75 479.55,307.94 479.80,307.16 480.05,306.50 480.30,306.00 480.55,305.66 480.80,305.45 481.05,305.33 481.30,305.27 481.55,305.25 481.80,305.25 482.05,305.27 482.30,305.29 482.55,305.33 482.80,305.36 483.05,305.39 483.30,305.42 483.55,305.45 483.80,305.48 484.05,305.51 484.30,305.54 484.55,305.57 484.80,305.59 485.05,305.61 485.30,305.63 485.55,305.65 485.80,305.67 486.05,305.68 486.30,305.69 486.55,305.71 486.80,305.72 487.05,305.72 487.30,305.73 487.55,305.73 487.80,305.74 488.05,305.74 488.30,305.74 488.55,305.73 488.80,305.73 489.05,305.72 489.30,305.72 489.55,305.71 489.80,305.69 490.05,305.68 490.30,305.67 490.55,305.65 490.80,305.63 491.05,305.61 491.30,305.59 491.55,305.57 491.80,305.54 492.05,305.51 492.30,305.49 492.55,305.46 492.80,305.42 493.05,305.39 493.30,305.36 493.55,305.32 493.80,305.28 494.05,305.25 494.30,305.21 494.55,305.17 494.80,305.13 495.05,305.10 495.30,305.06 495.55,305.03 495.80,305.01 496.05,304.99 496.30,304.99 496.55,304.99 496.80,305.02 497.05,305.07 497.30,305.15 497.55,305.26 497.80,305.42 498.05,305.64 498.30,305.91 498.55,306.23 498.80,306.62 499.05,307.05 499.30,307.52 499.55,308.00 499.80,308.49 500.05,308.95 500.30,309.38 500.55,309.76 500.80,310.10 501.05,310.38 501.30,310.61 501.55,310.80 501.80,310.95 502.05,311.07 502.30,311.17 502.55,311.24 502.80,311.30 502.80,311.50" fill="url(#hatch)"/>
<polyline points="480.05,306.50 480.30,306.00 480.55,305.66 480.80,305.45 481.05,305.33 481.30,305.27 481.55,305.25 481.80,305.25 482.05,305.27 482.30,305.29 482.55,305.33 482.80,305.36 483.05,305.39 483.30,305.42 483.55,305.45 483.80,305.48 484.05,305.51 484.30,305.54 484.55,305.57 484.80,305.59 485.05,305.61 485.30,305.63 485.55,305.65 485.80,305.67 486.05,305.68 486.30,305.69 486.55,305.71 486.80,305.72 487.05,305.72 487.30,305.73 487.55,305.73 487.80,305.74 488.05,305.74 488.30,305.74 488.55,305.73 488.80,305.73 489.05,305.72 489.30,305.71 489.55,305.70 489.80,305.69 490.05,305.67 490.30,305.65 490.55,305.63 490.80,305.61 491.05,305.57 491.30,305.54 491.55,305.50 491.80,305.45 492.05,305.39 492.30,305.32 492.55,305.23 492.80,305.14 493.05,305.03 493.30,304.90 493.55,304.76 493.80,304.59 494.05,304.41 494.30,304.21 494.55,303.99 494.80,303.75 495.05,303.51 495.30,303.25 495.55,303.00 495.80,302.75 496.05,302.51 496.30,302.30 496.55,302.11 496.80,301.98 497.05,301.89 497.30,301.87 497.55,301.92 497.80,302.06 498.05,302.30 498.30,302.63 498.55,303.05 498.80,303.57 499.05,304.17 499.30,304.83 499.55,305.52 499.80,306.23 500.05,306.91 500.30,307.57 500.55,308.17 500.80,308.72 501.05,309.19 501.30,309.61 501.55,309.96 501.80,310.26 502.05,310.51 502.30,310.71" fill="none" stroke="#7d7dd6" stroke-width="0.55"/>
<polyline points="469.30,311.25 469.55,311.25 469.80,311.25 470.05,311.25 470.30,311.25 470.55,311.25 470.80,311.25 471.05,311.25 471.30,311.25 471.55,311.25 471.80,311.25 472.05,311.25 472.30,311.25 472.55,311.25 472.80,311.25 473.05,311.25 473.30,311.25 473.55,311.25 473.80,311.24 474.05,311.22 474.30,311.19 474.55,311.12 474.80,310.97 475.05,310.68 475.30,310.16 475.55,309.28 475.80,307.86 476.05,305.71 476.30,302.66 476.55,298.59 476.80,293.54 477.05,287.71 477.30,281.53 477.55,275.60 477.80,270.62 478.05,267.23 478.30,265.87 478.55,266.70 478.80,269.50 479.05,273.79 479.30,278.92 479.55,284.27 479.80,289.32 480.05,293.71 480.30,297.28 480.55,300.00 480.80,301.93 481.05,303.23 481.30,304.05 481.55,304.55 481.80,304.84 482.05,305.01 482.30,305.11 482.55,305.17 482.80,305.22 483.05,305.26 483.30,305.29 483.55,305.32 483.80,305.35 484.05,305.38 484.30,305.41 484.55,305.43 484.80,305.46 485.05,305.48 485.30,305.50 485.55,305.52 485.80,305.53 486.05,305.55 486.30,305.56 486.55,305.57 486.80,305.58 487.05,305.59 487.30,305.60 487.55,305.60 487.80,305.60 488.05,305.60 488.30,305.60 488.55,305.60 488.80,305.59 489.05,305.59 489.30,305.58 489.55,305.57 489.80,305.55 490.05,305.54 490.30,305.52 490.55,305.49 490.80,305.46 491.05,305.43 491.30,305.39 491.55,305.34 491.80,305.28 492.05,305.21 492.30,305.12 492.55,305.02 492.80,304.90 493.05,304.77 493.30,304.60 493.55,304.42 493.80,304.21 494.05,303.97 494.30,303.71 494.55,303.42 494.80,303.11 495.05,302.79 495.30,302.45 495.55,302.11 495.80,301.78 496.05,301.46 496.30,301.17 496.55,300.91 496.80,300.71 497.05,300.58 497.30,300.52 497.55,300.55 497.80,300.68 498.05,300.91 498.30,301.26 498.55,301.72 498.80,302.28 499.05,302.93 499.30,303.65 499.55,304.41 499.80,305.19 500.05,305.95 500.30,306.68 500.55,307.36 500.80,307.98 501.05,308.52 501.30,309.00 501.55,309.41 501.80,309.76 502.05,310.06 502.30,310.30 502.55,310.50 502.80,310.67 503.05,310.80 503.30,310.90 503.55,310.99 503.80,311.05 504.05,311.10 504.30,311.14 504.55,311.17 504.80,311.19 505.05,311.21 505.30,311.22 505.55,311.23 505.80,311.23 506.05,311.24 506.30,311.24 506.55,311.24 506.80,311.25 507.05,311.25 507.30,311.25 507.55,311.25 507.80,311.25" fill="none" stroke="#8e8e9e" stroke-width="0.6"/>
<polygon points="474.30,311.50 474.30,311.46 474.55,311.40 474.80,311.29 475.05,311.08 475.30,310.69 475.55,310.04 475.80,308.98 476.05,307.39 476.30,305.12 476.55,302.11 476.80,298.36 477.05,294.04 477.30,289.47 477.55,285.11 477.80,281.47 478.05,279.05 478.30,278.20 478.55,279.05 478.80,281.47 479.05,285.11 479.30,289.47 479.55,294.04 479.80,298.36 480.05,302.11 480.30,305.12 480.55,307.39 480.80,308.98 481.05,310.04 481.30,310.69 481.55,311.08 481.80,311.29 482.05,311.40 482.30,311.46 482.30,311.50" fill="#df1c1c" stroke="#c81010" stroke-width="0.35"/>
<polygon points="489.80,311.50 489.80,311.48 490.05,311.48 490.30,311.47 490.55,311.45 490.80,311.43 491.05,311.41 491.30,311.37 491.55,311.32 491.80,311.26 492.05,311.18 492.30,311.08 492.55,310.95 492.80,310.79 493.05,310.60 493.30,310.36 493.55,310.09 493.80,309.77 494.05,309.41 494.30,308.99 494.55,308.54 494.80,308.05 495.05,307.52 495.30,306.97 495.55,306.41 495.80,305.84 496.05,305.29 496.30,304.77 496.55,304.30 496.80,303.89 497.05,303.55 497.30,303.30 497.55,303.15 497.80,303.10 498.05,303.15 498.30,303.30 498.55,303.55 498.80,303.89 499.05,304.30 499.30,304.77 499.55,305.29 499.80,305.84 500.05,306.41 500.30,306.97 500.55,307.52 500.80,308.05 501.05,308.54 501.30,308.99 501.55,309.41 501.80,309.77 502.05,310.09 502.30,310.36 502.55,310.60 502.80,310.79 503.05,310.95 503.30,311.08 503.55,311.18 503.80,311.26 504.05,311.32 504.30,311.37 504.55,311.41 504.80,311.43 505.05,311.45 505.30,311.47 505.55,311.48 505.80,311.48 505.80,311.50" fill="#df1c1c" stroke="#c81010" stroke-width="0.35"/>
<rect x="477.70" y="311.70" width="1.20" height="1.60" fill="#c00" />
<rect x="497.20" y="311.70" width="1.20" height="1.60" fill="#c00" />
<text x="58.50" y="332.24" font-size="9" text-anchor="end" fill="#1a1a1a" stroke="#1a1a1a" stroke-width="0.22" font-weight="normal" >G0/G1:</text>
<text x="58.50" y="344.04" font-size="9" text-anchor="end" fill="#1a1a1a" stroke="#1a1a1a" stroke-width="0.22" font-weight="normal" >S:</text>
<text x="58.50" y="355.44" font-size="9" text-anchor="end" fill="#1a1a1a" stroke="#1a1a1a" stroke-width="0.22" font-weight="normal" >G2/M:</text>
<text x="90.00" y="332.24" font-size="9" text-anchor="middle" fill="#1a1a1a" stroke="#1a1a1a" stroke-width="0.22" font-weight="normal" >31%</text>
<text x="90.00" y="344.04" font-size="9" text-anchor="middle" fill="#1a1a1a" stroke="#1a1a1a" stroke-width="0.22" font-weight="normal" >56%</text>
<text x="90.00" y="355.44" font-size="9" text-anchor="middle" fill="#1a1a1a" stroke="#1a1a1a" stroke-width="0.22" font-weight="normal" >13%</text>
<text x="166.50" y="332.24" font-size="9" text-anchor="middle" fill="#1a1a1a" stroke="#1a1a1a" stroke-width="0.22" font-weight="normal" >43%</text>
<text x="166.50" y="344.04" font-size="9" text-anchor="middle" fill="#1a1a1a" stroke="#1a1a1a" stroke-width="0.22" font-weight="normal" >46%</text>
<text x="166.50" y="355.44" font-size="9" text-anchor="middle" fill="#1a1a1a" stroke="#1a1a1a" stroke-width="0.22" font-weight="normal" >11%</text>
<text x="240.00" y="332.24" font-size="9" text-anchor="middle" fill="#1a1a1a" stroke="#1a1a1a" stroke-width="0.22" font-weight="normal" >48%</text>
<text x="240.00" y="344.04" font-size="9" text-anchor="middle" fill="#1a1a1a" stroke="#1a1a1a" stroke-width="0.22" font-weight="normal" >39%</text>
<text x="240.00" y="355.44" font-size="9" text-anchor="middle" fill="#1a1a1a" stroke="#1a1a1a" stroke-width="0.22" font-weight="normal" >13%</text>
<text x="327.00" y="332.24" font-size="9" text-anchor="middle" fill="#1a1a1a" stroke="#1a1a1a" stroke-width="0.22" font-weight="normal" >29%</text>
<text x="327.00" y="344.04" font-size="9" text-anchor="middle" fill="#1a1a1a" stroke="#1a1a1a" stroke-width="0.22" font-weight="normal" >52%</text>
<text x="327.00" y="355.44" font-size="9" text-anchor="middle" fill="#1a1a1a" stroke="#1a1a1a" stroke-width="0.22" font-weight="normal" >19%</text>
<text x="403.70" y="332.24" font-size="9" text-anchor="middle" fill="#1a1a1a" stroke="#1a1a1a" stroke-width="0.22" font-weight="normal" >44%</text>
<text x="403.70" y="344.04" font-size="9" text-anchor="middle" fill="#1a1a1a" stroke="#1a1a1a" stroke-width="0.22" font-weight="normal" >38%</text>
<text x="403.70" y="355.44" font-size="9" text-anchor="middle" fill="#1a1a1a" stroke="#1a1a1a" stroke-width="0.22" font-weight="normal" >18%</text>
<text x="481.70" y="332.24" font-size="9" text-anchor="middle" fill="#1a1a1a" stroke="#1a1a1a" stroke-width="0.22" font-weight="normal" >39%</text>
<text x="481.70" y="344.04" font-size="9" text-anchor="middle" fill="#1a1a1a" stroke="#1a1a1a" stroke-width="0.22" font-weight="normal" >41%</text>
<text x="481.70" y="355.44" font-size="9" text-anchor="middle" fill="#1a1a1a" stroke="#1a1a1a" stroke-width="0.22" font-weight="normal" >20%</text>
<text x="8.50" y="386.50" font-size="13.6" text-anchor="middle" fill="#0c0c0c" stroke="#0c0c0c" stroke-width="0.35" font-weight="bold" >C</text>
<text x="110.60" y="378.71" font-size="10.3" text-anchor="middle" fill="#1a1a1a" stroke="#1a1a1a" stroke-width="0.35" font-weight="normal" >606</text>
<text x="185.00" y="378.71" font-size="10.3" text-anchor="middle" fill="#1a1a1a" stroke="#1a1a1a" stroke-width="0.35" font-weight="normal" >931</text>
<line x1="78.00" y1="382.60" x2="146.30" y2="382.60" stroke="#444" stroke-width="1" />
<line x1="151.30" y1="382.60" x2="220.00" y2="382.60" stroke="#444" stroke-width="1" />
<text x="69.50" y="398.21" font-size="10.3" text-anchor="end" fill="#1a1a1a" stroke="#1a1a1a" stroke-width="0.35" font-weight="normal" >sh</text>
<text x="86.70" y="398.21" font-size="10.3" text-anchor="middle" fill="#1a1a1a" stroke="#1a1a1a" stroke-width="0.35" font-weight="normal" >ns</text>
<text x="113.20" y="398.21" font-size="10.3" text-anchor="middle" fill="#1a1a1a" stroke="#1a1a1a" stroke-width="0.35" font-weight="normal" >17</text>
<text x="137.50" y="398.21" font-size="10.3" text-anchor="middle" fill="#1a1a1a" stroke="#1a1a1a" stroke-width="0.35" font-weight="normal" >19</text>
<text x="160.50" y="398.21" font-size="10.3" text-anchor="middle" fill="#1a1a1a" stroke="#1a1a1a" stroke-width="0.35" font-weight="normal" >ns</text>
<text x="188.00" y="398.21" font-size="10.3" text-anchor="middle" fill="#1a1a1a" stroke="#1a1a1a" stroke-width="0.35" font-weight="normal" >17</text>
<text x="212.00" y="398.21" font-size="10.3" text-anchor="middle" fill="#1a1a1a" stroke="#1a1a1a" stroke-width="0.35" font-weight="normal" >19</text>
<text x="68.70" y="415.11" font-size="10.3" text-anchor="end" fill="#1a1a1a" stroke="#1a1a1a" stroke-width="0.35" font-weight="normal" >P-Stat5</text>
<text x="68.70" y="432.66" font-size="10.3" text-anchor="end" fill="#1a1a1a" stroke="#1a1a1a" stroke-width="0.35" font-weight="normal" >Stat5</text>
<text x="68.70" y="449.66" font-size="10.3" text-anchor="end" fill="#1a1a1a" stroke="#1a1a1a" stroke-width="0.35" font-weight="normal" >P-Akt</text>
<text x="68.70" y="466.16" font-size="10.3" text-anchor="end" fill="#1a1a1a" stroke="#1a1a1a" stroke-width="0.35" font-weight="normal" >Akt</text>
<text x="68.70" y="485.96" font-size="10.3" text-anchor="end" fill="#1a1a1a" stroke="#1a1a1a" stroke-width="0.35" font-weight="normal" >P-Erk1/2</text>
<text x="68.70" y="505.96" font-size="10.3" text-anchor="end" fill="#1a1a1a" stroke="#1a1a1a" stroke-width="0.35" font-weight="normal" >Erk1/2</text>
<text x="68.70" y="526.06" font-size="10.3" text-anchor="end" fill="#1a1a1a" stroke="#1a1a1a" stroke-width="0.35" font-weight="normal" >P-Shp2</text>
<text x="68.70" y="544.81" font-size="10.3" text-anchor="end" fill="#1a1a1a" stroke="#1a1a1a" stroke-width="0.35" font-weight="normal" >Shp2</text>
<clipPath id="c1"><rect x="73.50" y="404.00" width="73.90" height="12.40"/></clipPath>
<rect x="73.50" y="404.00" width="73.90" height="12.40" fill="#f3f3f3" />
<g clip-path="url(#c1)">
<rect x="75.22" y="410.39" width="21.18" height="1.60" rx="0.80" fill="#000" opacity="0.38" filter="url(#b1)"/>
<rect x="124.49" y="410.12" width="21.18" height="1.40" rx="0.70" fill="#000" opacity="0.07" filter="url(#b1)"/>
</g>
<rect x="73.50" y="404.00" width="73.90" height="12.40" fill="none" stroke="#2a2a2a" stroke-width="1.1"/>
<clipPath id="c2"><rect x="73.50" y="421.50" width="73.90" height="12.50"/></clipPath>
<rect x="73.50" y="421.50" width="73.90" height="12.50" fill="#f0f0f0" />
<g clip-path="url(#c2)">
<rect x="74.12" y="425.98" width="23.40" height="4.80" rx="2.40" fill="#000" opacity="0.5" filter="url(#b2)"/>
<rect x="74.73" y="429.35" width="22.17" height="1.80" rx="0.90" fill="#000" opacity="0.25" filter="url(#b1)"/>
<rect x="99.86" y="426.55" width="21.18" height="2.40" rx="1.20" fill="#000" opacity="0.05" filter="url(#b2)"/>
<rect x="124.49" y="426.38" width="21.18" height="4.00" rx="2.00" fill="#000" opacity="0.14" filter="url(#b2)"/>
</g>
<rect x="73.50" y="421.50" width="73.90" height="12.50" fill="none" stroke="#2a2a2a" stroke-width="1.1"/>
<clipPath id="c3"><rect x="73.50" y="439.20" width="73.90" height="11.10"/></clipPath>
<rect x="73.50" y="439.20" width="73.90" height="11.10" fill="#f2f2f2" />
<g clip-path="url(#c3)">
<rect x="75.22" y="444.74" width="21.18" height="1.80" rx="0.90" fill="#000" opacity="0.42" filter="url(#b1)"/>
<rect x="99.86" y="445.06" width="21.18" height="1.60" rx="0.80" fill="#000" opacity="0.3" filter="url(#b1)"/>
<rect x="124.49" y="444.96" width="21.18" height="1.80" rx="0.90" fill="#000" opacity="0.5" filter="url(#b1)"/>
</g>
<rect x="73.50" y="439.20" width="73.90" height="11.10" fill="none" stroke="#2a2a2a" stroke-width="1.1"/>
<clipPath id="c4"><rect x="73.50" y="455.00" width="73.90" height="12.50"/></clipPath>
<rect x="73.50" y="455.00" width="73.90" height="12.50" fill="#e6e6e6" />
<g clip-path="url(#c4)">
<rect x="74.49" y="459.85" width="22.66" height="2.30" rx="1.15" fill="#000" opacity="0.8" filter="url(#b1)"/>
<rect x="99.12" y="459.85" width="22.66" height="2.30" rx="1.15" fill="#000" opacity="0.8" filter="url(#b1)"/>
<rect x="123.75" y="459.85" width="22.66" height="2.30" rx="1.15" fill="#000" opacity="0.8" filter="url(#b1)"/>
</g>
<rect x="73.50" y="455.00" width="73.90" height="12.50" fill="none" stroke="#2a2a2a" stroke-width="1.1"/>
<clipPath id="c5"><rect x="73.50" y="473.50" width="73.90" height="15.10"/></clipPath>
<rect x="73.50" y="473.50" width="73.90" height="15.10" fill="#ebebeb" />
<g clip-path="url(#c5)">
<rect x="75.22" y="476.93" width="21.18" height="1.60" rx="0.80" fill="#000" opacity="0.16" filter="url(#b1)"/>
<rect x="99.86" y="476.93" width="21.18" height="1.60" rx="0.80" fill="#000" opacity="0.16" filter="url(#b1)"/>
<rect x="124.49" y="476.93" width="21.18" height="1.60" rx="0.80" fill="#000" opacity="0.16" filter="url(#b1)"/>
<rect x="75.22" y="482.16" width="21.18" height="2.00" rx="1.00" fill="#000" opacity="0.62" filter="url(#b1)"/>
<rect x="99.86" y="482.16" width="21.18" height="2.00" rx="1.00" fill="#000" opacity="0.62" filter="url(#b1)"/>
<rect x="124.49" y="482.16" width="21.18" height="2.00" rx="1.00" fill="#000" opacity="0.62" filter="url(#b1)"/>
</g>
<rect x="73.50" y="473.50" width="73.90" height="15.10" fill="none" stroke="#2a2a2a" stroke-width="1.1"/>
<clipPath id="c6"><rect x="73.50" y="493.40" width="73.90" height="15.30"/></clipPath>
<rect x="73.50" y="493.40" width="73.90" height="15.30" fill="#f0f0f0" />
<g clip-path="url(#c6)">
<rect x="74.12" y="497.55" width="23.40" height="1.80" rx="0.90" fill="#000" opacity="0.45" filter="url(#b1)"/>
<rect x="98.75" y="497.55" width="23.40" height="1.80" rx="0.90" fill="#000" opacity="0.45" filter="url(#b1)"/>
<rect x="123.38" y="497.55" width="23.40" height="1.80" rx="0.90" fill="#000" opacity="0.45" filter="url(#b1)"/>
<rect x="74.12" y="502.90" width="23.40" height="1.80" rx="0.90" fill="#000" opacity="0.55" filter="url(#b1)"/>
<rect x="98.75" y="502.90" width="23.40" height="1.80" rx="0.90" fill="#000" opacity="0.55" filter="url(#b1)"/>
<rect x="123.38" y="502.90" width="23.40" height="1.80" rx="0.90" fill="#000" opacity="0.55" filter="url(#b1)"/>
</g>
<rect x="73.50" y="493.40" width="73.90" height="15.30" fill="none" stroke="#2a2a2a" stroke-width="1.1"/>
<clipPath id="c7"><rect x="73.50" y="514.10" width="73.90" height="14.10"/></clipPath>
<rect x="73.50" y="514.10" width="73.90" height="14.10" fill="#dedede" />
<g clip-path="url(#c7)">
<rect x="74.73" y="518.87" width="22.17" height="4.00" rx="2.00" fill="#000" opacity="0.9" filter="url(#b2)"/>
<rect x="99.37" y="518.87" width="22.17" height="4.00" rx="2.00" fill="#000" opacity="0.9" filter="url(#b2)"/>
<rect x="124.00" y="518.87" width="22.17" height="4.00" rx="2.00" fill="#000" opacity="0.9" filter="url(#b2)"/>
</g>
<rect x="73.50" y="514.10" width="73.90" height="14.10" fill="none" stroke="#2a2a2a" stroke-width="1.1"/>
<clipPath id="c8"><rect x="73.50" y="534.20" width="73.90" height="11.40"/></clipPath>
<rect x="73.50" y="534.20" width="73.90" height="11.40" fill="#e6e6e6" />
<g clip-path="url(#c8)">
<rect x="74.73" y="539.10" width="22.17" height="1.60" rx="0.80" fill="#000" opacity="0.4" filter="url(#b1)"/>
<rect x="99.37" y="539.10" width="22.17" height="1.60" rx="0.80" fill="#000" opacity="0.4" filter="url(#b1)"/>
<rect x="124.00" y="539.10" width="22.17" height="1.60" rx="0.80" fill="#000" opacity="0.4" filter="url(#b1)"/>
</g>
<rect x="73.50" y="534.20" width="73.90" height="11.40" fill="none" stroke="#2a2a2a" stroke-width="1.1"/>
<clipPath id="c9"><rect x="151.40" y="404.00" width="74.40" height="12.40"/></clipPath>
<rect x="151.40" y="404.00" width="74.40" height="12.40" fill="#f1f1f1" />
<g clip-path="url(#c9)">
<rect x="153.14" y="409.69" width="21.33" height="2.50" rx="1.25" fill="#000" opacity="0.4" filter="url(#b1)"/>
<rect x="177.94" y="409.92" width="21.33" height="1.80" rx="0.90" fill="#000" opacity="0.07" filter="url(#b1)"/>
<rect x="202.74" y="409.84" width="21.33" height="2.20" rx="1.10" fill="#000" opacity="0.18" filter="url(#b1)"/>
</g>
<rect x="151.40" y="404.00" width="74.40" height="12.40" fill="none" stroke="#2a2a2a" stroke-width="1.1"/>
<clipPath id="c10"><rect x="151.40" y="421.50" width="74.40" height="12.50"/></clipPath>
<rect x="151.40" y="421.50" width="74.40" height="12.50" fill="#e4e4e4" />
<g clip-path="url(#c10)">
<rect x="152.02" y="425.70" width="23.56" height="4.60" rx="2.30" fill="#000" opacity="0.42" filter="url(#b2)"/>
<rect x="153.14" y="429.20" width="21.33" height="1.60" rx="0.80" fill="#000" opacity="0.2" filter="url(#b1)"/>
<rect x="177.94" y="425.62" width="21.33" height="3.00" rx="1.50" fill="#000" opacity="0.17" filter="url(#b2)"/>
<rect x="202.74" y="426.00" width="21.33" height="4.00" rx="2.00" fill="#000" opacity="0.3" filter="url(#b2)"/>
</g>
<rect x="151.40" y="421.50" width="74.40" height="12.50" fill="none" stroke="#2a2a2a" stroke-width="1.1"/>
<clipPath id="c11"><rect x="151.40" y="439.20" width="74.40" height="11.10"/></clipPath>
<rect x="151.40" y="439.20" width="74.40" height="11.10" fill="#e2e2e2" />
<g clip-path="url(#c11)">
<rect x="153.26" y="443.53" width="21.08" height="2.00" rx="1.00" fill="#000" opacity="0.5" filter="url(#b2)"/>
<rect x="178.06" y="443.53" width="21.08" height="2.00" rx="1.00" fill="#000" opacity="0.5" filter="url(#b2)"/>
<rect x="202.86" y="443.53" width="21.08" height="2.00" rx="1.00" fill="#000" opacity="0.5" filter="url(#b2)"/>
<rect x="153.88" y="443.93" width="19.84" height="1.20" rx="0.60" fill="#000" opacity="0.3" filter="url(#b1)"/>
<rect x="178.68" y="443.93" width="19.84" height="1.20" rx="0.60" fill="#000" opacity="0.3" filter="url(#b1)"/>
<rect x="203.48" y="443.93" width="19.84" height="1.20" rx="0.60" fill="#000" opacity="0.3" filter="url(#b1)"/>
<rect x="152.64" y="442.75" width="22.32" height="4.00" rx="2.00" fill="#000" opacity="0.1" filter="url(#b2)"/>
<rect x="177.44" y="442.75" width="22.32" height="4.00" rx="2.00" fill="#000" opacity="0.1" filter="url(#b2)"/>
<rect x="202.24" y="442.75" width="22.32" height="4.00" rx="2.00" fill="#000" opacity="0.1" filter="url(#b2)"/>
</g>
<rect x="151.40" y="439.20" width="74.40" height="11.10" fill="none" stroke="#2a2a2a" stroke-width="1.1"/>
<clipPath id="c12"><rect x="151.40" y="455.00" width="74.40" height="12.50"/></clipPath>
<rect x="151.40" y="455.00" width="74.40" height="12.50" fill="#f6f6f6" />
<g clip-path="url(#c12)">
<rect x="152.64" y="459.93" width="22.32" height="1.90" rx="0.95" fill="#000" opacity="0.42" filter="url(#b1)"/>
<rect x="177.44" y="459.93" width="22.32" height="1.90" rx="0.95" fill="#000" opacity="0.42" filter="url(#b1)"/>
<rect x="202.24" y="459.93" width="22.32" height="1.90" rx="0.95" fill="#000" opacity="0.42" filter="url(#b1)"/>
</g>
<rect x="151.40" y="455.00" width="74.40" height="12.50" fill="none" stroke="#2a2a2a" stroke-width="1.1"/>
<clipPath id="c13"><rect x="151.40" y="473.50" width="74.40" height="15.10"/></clipPath>
<rect x="151.40" y="473.50" width="74.40" height="15.10" fill="#e2e2e2" />
<g clip-path="url(#c13)">
<rect x="153.14" y="476.43" width="21.33" height="3.20" rx="1.60" fill="#000" opacity="0.38" filter="url(#b2)"/>
<rect x="177.94" y="476.43" width="21.33" height="3.20" rx="1.60" fill="#000" opacity="0.38" filter="url(#b2)"/>
<rect x="202.74" y="476.43" width="21.33" height="3.20" rx="1.60" fill="#000" opacity="0.38" filter="url(#b2)"/>
<rect x="153.14" y="482.67" width="21.33" height="2.20" rx="1.10" fill="#000" opacity="0.7" filter="url(#b1)"/>
<rect x="177.94" y="482.67" width="21.33" height="2.20" rx="1.10" fill="#000" opacity="0.7" filter="url(#b1)"/>
<rect x="202.74" y="482.67" width="21.33" height="2.20" rx="1.10" fill="#000" opacity="0.7" filter="url(#b1)"/>
</g>
<rect x="151.40" y="473.50" width="74.40" height="15.10" fill="none" stroke="#2a2a2a" stroke-width="1.1"/>
<clipPath id="c14"><rect x="151.40" y="493.40" width="74.40" height="15.30"/></clipPath>
<rect x="151.40" y="493.40" width="74.40" height="15.30" fill="#f0f0f0" />
<g clip-path="url(#c14)">
<rect x="152.02" y="497.55" width="23.56" height="1.80" rx="0.90" fill="#000" opacity="0.6" filter="url(#b1)"/>
<rect x="176.82" y="497.55" width="23.56" height="1.80" rx="0.90" fill="#000" opacity="0.6" filter="url(#b1)"/>
<rect x="201.62" y="497.55" width="23.56" height="1.80" rx="0.90" fill="#000" opacity="0.6" filter="url(#b1)"/>
<rect x="152.02" y="502.80" width="23.56" height="2.00" rx="1.00" fill="#000" opacity="0.62" filter="url(#b1)"/>
<rect x="176.82" y="502.80" width="23.56" height="2.00" rx="1.00" fill="#000" opacity="0.62" filter="url(#b1)"/>
<rect x="201.62" y="502.80" width="23.56" height="2.00" rx="1.00" fill="#000" opacity="0.62" filter="url(#b1)"/>
</g>
<rect x="151.40" y="493.40" width="74.40" height="15.30" fill="none" stroke="#2a2a2a" stroke-width="1.1"/>
<clipPath id="c15"><rect x="151.40" y="514.10" width="74.40" height="14.10"/></clipPath>
<rect x="151.40" y="514.10" width="74.40" height="14.10" fill="#d2d2d2" />
<g clip-path="url(#c15)">
<rect x="153.14" y="519.15" width="21.33" height="4.00" rx="2.00" fill="#000" opacity="0.72" filter="url(#b2)"/>
<rect x="177.94" y="518.75" width="21.33" height="4.80" rx="2.40" fill="#000" opacity="0.95" filter="url(#b2)"/>
<rect x="202.74" y="519.35" width="21.33" height="3.60" rx="1.80" fill="#000" opacity="0.68" filter="url(#b2)"/>
</g>
<rect x="151.40" y="514.10" width="74.40" height="14.10" fill="none" stroke="#2a2a2a" stroke-width="1.1"/>
<clipPath id="c16"><rect x="151.40" y="534.20" width="74.40" height="11.40"/></clipPath>
<rect x="151.40" y="534.20" width="74.40" height="11.40" fill="#e8e8e8" />
<g clip-path="url(#c16)">
<rect x="152.64" y="539.10" width="22.32" height="1.60" rx="0.80" fill="#000" opacity="0.42" filter="url(#b1)"/>
<rect x="177.44" y="539.10" width="22.32" height="1.60" rx="0.80" fill="#000" opacity="0.42" filter="url(#b1)"/>
<rect x="202.24" y="539.10" width="22.32" height="1.60" rx="0.80" fill="#000" opacity="0.42" filter="url(#b1)"/>
</g>
<rect x="151.40" y="534.20" width="74.40" height="11.40" fill="none" stroke="#2a2a2a" stroke-width="1.1"/>
<text x="256.70" y="389.70" font-size="13.6" text-anchor="middle" fill="#0c0c0c" stroke="#0c0c0c" stroke-width="0.35" font-weight="bold" >D</text>
<text x="351.00" y="384.21" font-size="10.3" text-anchor="middle" fill="#1a1a1a" stroke="#1a1a1a" stroke-width="0.35" font-weight="normal" >606</text>
<text x="460.00" y="384.71" font-size="10.3" text-anchor="middle" fill="#1a1a1a" stroke="#1a1a1a" stroke-width="0.35" font-weight="normal" >931</text>
<line x1="299.80" y1="387.20" x2="401.80" y2="387.20" stroke="#444" stroke-width="1" />
<line x1="408.60" y1="387.60" x2="510.00" y2="387.60" stroke="#444" stroke-width="1" />
<text x="312.30" y="402.11" font-size="10.3" text-anchor="middle" fill="#1a1a1a" stroke="#1a1a1a" stroke-width="0.35" font-weight="normal" >-</text>
<text x="336.20" y="402.71" font-size="10.3" text-anchor="middle" fill="#1a1a1a" stroke="#1a1a1a" stroke-width="0.35" font-weight="normal" >LY</text>
<text x="363.30" y="402.11" font-size="10.3" text-anchor="middle" fill="#1a1a1a" stroke="#1a1a1a" stroke-width="0.35" font-weight="normal" >-</text>
<text x="389.20" y="402.71" font-size="10.3" text-anchor="middle" fill="#1a1a1a" stroke="#1a1a1a" stroke-width="0.35" font-weight="normal" >BEZ</text>
<text x="420.30" y="402.11" font-size="10.3" text-anchor="middle" fill="#1a1a1a" stroke="#1a1a1a" stroke-width="0.35" font-weight="normal" >-</text>
<text x="446.80" y="402.71" font-size="10.3" text-anchor="middle" fill="#1a1a1a" stroke="#1a1a1a" stroke-width="0.35" font-weight="normal" >LY</text>
<text x="473.40" y="402.11" font-size="10.3" text-anchor="middle" fill="#1a1a1a" stroke="#1a1a1a" stroke-width="0.35" font-weight="normal" >-</text>
<text x="495.80" y="402.71" font-size="10.3" text-anchor="middle" fill="#1a1a1a" stroke="#1a1a1a" stroke-width="0.35" font-weight="normal" >BEZ</text>
<text x="293.00" y="417.71" font-size="10.3" text-anchor="end" fill="#1a1a1a" stroke="#1a1a1a" stroke-width="0.35" font-weight="normal" >P-Akt</text>
<text x="293.00" y="434.91" font-size="10.3" text-anchor="end" fill="#1a1a1a" stroke="#1a1a1a" stroke-width="0.35" font-weight="normal" >Akt</text>
<text x="293.00" y="453.56" font-size="10.3" text-anchor="end" fill="#1a1a1a" stroke="#1a1a1a" stroke-width="0.35" font-weight="normal" >P-Stat5</text>
<text x="293.00" y="469.66" font-size="10.3" text-anchor="end" fill="#1a1a1a" stroke="#1a1a1a" stroke-width="0.35" font-weight="normal" >Stat5</text>
<text x="293.00" y="489.46" font-size="10.3" text-anchor="end" fill="#1a1a1a" stroke="#1a1a1a" stroke-width="0.35" font-weight="normal" >P-Shp2</text>
<text x="293.00" y="506.31" font-size="10.3" text-anchor="end" fill="#1a1a1a" stroke="#1a1a1a" stroke-width="0.35" font-weight="normal" >Shp2</text>
<text x="293.00" y="524.06" font-size="10.3" text-anchor="end" fill="#1a1a1a" stroke="#1a1a1a" stroke-width="0.35" font-weight="normal" >P-Erk1/2</text>
<text x="293.00" y="541.31" font-size="10.3" text-anchor="end" fill="#1a1a1a" stroke="#1a1a1a" stroke-width="0.35" font-weight="normal" >Erk</text>
<clipPath id="c17"><rect x="298.30" y="406.80" width="49.70" height="13.00"/></clipPath>
<rect x="298.30" y="406.80" width="49.70" height="13.00" fill="#f0f0f0" />
<g clip-path="url(#c17)">
<rect x="299.29" y="412.15" width="19.88" height="2.30" rx="1.15" fill="#000" opacity="0.78" filter="url(#b1)"/>
<rect x="326.88" y="412.40" width="17.39" height="1.80" rx="0.90" fill="#000" opacity="0.08" filter="url(#b1)"/>
</g>
<rect x="298.30" y="406.80" width="49.70" height="13.00" fill="none" stroke="#2a2a2a" stroke-width="1.1"/>
<clipPath id="c18"><rect x="298.30" y="424.80" width="49.70" height="11.40"/></clipPath>
<rect x="298.30" y="424.80" width="49.70" height="11.40" fill="#f0f0f0" />
<g clip-path="url(#c18)">
<rect x="299.29" y="429.60" width="22.86" height="1.80" rx="0.90" fill="#000" opacity="0.55" filter="url(#b1)"/>
<rect x="324.14" y="430.07" width="22.86" height="2.00" rx="1.00" fill="#000" opacity="0.5" filter="url(#b1)"/>
</g>
<rect x="298.30" y="424.80" width="49.70" height="11.40" fill="none" stroke="#2a2a2a" stroke-width="1.1"/>
<clipPath id="c19"><rect x="298.30" y="443.50" width="49.70" height="11.30"/></clipPath>
<rect x="298.30" y="443.50" width="49.70" height="11.30" fill="#eeeeee" />
<g clip-path="url(#c19)">
<rect x="299.54" y="447.75" width="22.36" height="2.80" rx="1.40" fill="#000" opacity="0.22" filter="url(#b2)"/>
<rect x="324.39" y="447.75" width="22.36" height="2.80" rx="1.40" fill="#000" opacity="0.26" filter="url(#b2)"/>
</g>
<rect x="298.30" y="443.50" width="49.70" height="11.30" fill="none" stroke="#2a2a2a" stroke-width="1.1"/>
<clipPath id="c20"><rect x="298.30" y="459.00" width="49.70" height="12.50"/></clipPath>
<rect x="298.30" y="459.00" width="49.70" height="12.50" fill="#cecece" />
<g clip-path="url(#c20)">
<rect x="298.92" y="462.65" width="23.61" height="3.20" rx="1.60" fill="#000" opacity="0.4" filter="url(#b2)"/>
<rect x="299.29" y="465.65" width="22.86" height="2.20" rx="1.10" fill="#000" opacity="0.8" filter="url(#b1)"/>
<rect x="323.77" y="462.75" width="23.61" height="3.00" rx="1.50" fill="#000" opacity="0.35" filter="url(#b2)"/>
<rect x="324.39" y="465.75" width="22.36" height="2.00" rx="1.00" fill="#000" opacity="0.7" filter="url(#b1)"/>
</g>
<rect x="298.30" y="459.00" width="49.70" height="12.50" fill="none" stroke="#2a2a2a" stroke-width="1.1"/>
<clipPath id="c21"><rect x="298.30" y="478.70" width="49.70" height="12.70"/></clipPath>
<rect x="298.30" y="478.70" width="49.70" height="12.70" fill="#eeeeee" />
<g clip-path="url(#c21)">
<rect x="300.54" y="482.43" width="20.38" height="3.20" rx="1.60" fill="#000" opacity="0.36" filter="url(#b2)"/>
<rect x="324.89" y="483.40" width="21.37" height="3.80" rx="1.90" fill="#000" opacity="0.55" filter="url(#b2)"/>
</g>
<rect x="298.30" y="478.70" width="49.70" height="12.70" fill="none" stroke="#2a2a2a" stroke-width="1.1"/>
<clipPath id="c22"><rect x="298.30" y="495.60" width="49.70" height="12.60"/></clipPath>
<rect x="298.30" y="495.60" width="49.70" height="12.60" fill="#ececec" />
<g clip-path="url(#c22)">
<rect x="300.16" y="499.99" width="21.12" height="1.80" rx="0.90" fill="#000" opacity="0.55" filter="url(#b1)"/>
<rect x="325.01" y="501.05" width="21.12" height="2.20" rx="1.10" fill="#000" opacity="0.72" filter="url(#b1)"/>
</g>
<rect x="298.30" y="495.60" width="49.70" height="12.60" fill="none" stroke="#2a2a2a" stroke-width="1.1"/>
<clipPath id="c23"><rect x="298.30" y="513.20" width="49.70" height="12.90"/></clipPath>
<rect x="298.30" y="513.20" width="49.70" height="12.90" fill="#f2f2f2" />
<g clip-path="url(#c23)">
<rect x="300.79" y="516.17" width="19.88" height="1.80" rx="0.90" fill="#000" opacity="0.25" filter="url(#b1)"/>
<rect x="325.63" y="516.17" width="19.88" height="1.80" rx="0.90" fill="#000" opacity="0.25" filter="url(#b1)"/>
<rect x="300.54" y="520.61" width="20.38" height="2.20" rx="1.10" fill="#000" opacity="0.72" filter="url(#b1)"/>
<rect x="325.63" y="520.46" width="19.88" height="2.00" rx="1.00" fill="#000" opacity="0.6" filter="url(#b1)"/>
</g>
<rect x="298.30" y="513.20" width="49.70" height="12.90" fill="none" stroke="#2a2a2a" stroke-width="1.1"/>
<clipPath id="c24"><rect x="298.30" y="530.40" width="49.70" height="13.00"/></clipPath>
<rect x="298.30" y="530.40" width="49.70" height="13.00" fill="#e8e8e8" />
<g clip-path="url(#c24)">
<rect x="298.55" y="533.79" width="24.35" height="1.80" rx="0.90" fill="#000" opacity="0.5" filter="url(#b1)"/>
<rect x="323.40" y="533.79" width="24.35" height="1.80" rx="0.90" fill="#000" opacity="0.5" filter="url(#b1)"/>
<rect x="298.55" y="538.60" width="24.35" height="1.80" rx="0.90" fill="#000" opacity="0.52" filter="url(#b1)"/>
<rect x="323.40" y="538.60" width="24.35" height="1.80" rx="0.90" fill="#000" opacity="0.52" filter="url(#b1)"/>
</g>
<rect x="298.30" y="530.40" width="49.70" height="13.00" fill="none" stroke="#2a2a2a" stroke-width="1.1"/>
<clipPath id="c25"><rect x="351.20" y="406.80" width="50.00" height="13.00"/></clipPath>
<rect x="351.20" y="406.80" width="50.00" height="13.00" fill="#f2f2f2" />
<g clip-path="url(#c25)">
<rect x="351.07" y="411.40" width="21.25" height="3.80" rx="1.90" fill="#000" opacity="0.88" filter="url(#b2)"/>
</g>
<rect x="351.20" y="406.80" width="50.00" height="13.00" fill="none" stroke="#2a2a2a" stroke-width="1.1"/>
<clipPath id="c26"><rect x="351.20" y="424.80" width="50.00" height="11.40"/></clipPath>
<rect x="351.20" y="424.80" width="50.00" height="11.40" fill="#efefef" />
<g clip-path="url(#c26)">
<rect x="352.45" y="428.93" width="22.50" height="2.00" rx="1.00" fill="#000" opacity="0.62" filter="url(#b1)"/>
<rect x="378.07" y="428.97" width="21.25" height="2.60" rx="1.30" fill="#000" opacity="0.8" filter="url(#b1)"/>
</g>
<rect x="351.20" y="424.80" width="50.00" height="11.40" fill="none" stroke="#2a2a2a" stroke-width="1.1"/>
<clipPath id="c27"><rect x="351.20" y="443.50" width="50.00" height="11.30"/></clipPath>
<rect x="351.20" y="443.50" width="50.00" height="11.30" fill="#e6e6e6" />
<g clip-path="url(#c27)">
<rect x="352.45" y="447.28" width="22.50" height="2.60" rx="1.30" fill="#000" opacity="0.3" filter="url(#b2)"/>
<rect x="378.07" y="447.85" width="21.25" height="2.60" rx="1.30" fill="#000" opacity="0.34" filter="url(#b2)"/>
</g>
<rect x="351.20" y="443.50" width="50.00" height="11.30" fill="none" stroke="#2a2a2a" stroke-width="1.1"/>
<clipPath id="c28"><rect x="351.20" y="459.00" width="50.00" height="12.50"/></clipPath>
<rect x="351.20" y="459.00" width="50.00" height="12.50" fill="#d6d6d6" />
<g clip-path="url(#c28)">
<rect x="352.20" y="463.25" width="23.00" height="4.00" rx="2.00" fill="#000" opacity="0.45" filter="url(#b2)"/>
<rect x="377.20" y="463.25" width="23.00" height="4.00" rx="2.00" fill="#000" opacity="0.42" filter="url(#b2)"/>
</g>
<rect x="351.20" y="459.00" width="50.00" height="12.50" fill="none" stroke="#2a2a2a" stroke-width="1.1"/>
<clipPath id="c29"><rect x="351.20" y="478.70" width="50.00" height="12.70"/></clipPath>
<rect x="351.20" y="478.70" width="50.00" height="12.70" fill="#e4e4e4" />
<g clip-path="url(#c29)">
<rect x="352.45" y="482.85" width="22.50" height="4.40" rx="2.20" fill="#000" opacity="0.22" filter="url(#b3)"/>
<rect x="378.07" y="482.80" width="21.25" height="4.00" rx="2.00" fill="#000" opacity="0.24" filter="url(#b3)"/>
</g>
<rect x="351.20" y="478.70" width="50.00" height="12.70" fill="none" stroke="#2a2a2a" stroke-width="1.1"/>
<clipPath id="c30"><rect x="351.20" y="495.60" width="50.00" height="12.60"/></clipPath>
<rect x="351.20" y="495.60" width="50.00" height="12.60" fill="#e4e4e4" />
<g clip-path="url(#c30)">
<rect x="352.20" y="501.05" width="23.00" height="2.20" rx="1.10" fill="#000" opacity="0.55" filter="url(#b1)"/>
<rect x="377.70" y="501.05" width="22.00" height="2.20" rx="1.10" fill="#000" opacity="0.55" filter="url(#b1)"/>
</g>
<rect x="351.20" y="495.60" width="50.00" height="12.60" fill="none" stroke="#2a2a2a" stroke-width="1.1"/>
<clipPath id="c31"><rect x="351.20" y="513.20" width="50.00" height="12.90"/></clipPath>
<rect x="351.20" y="513.20" width="50.00" height="12.90" fill="#f3f3f3" />
<g clip-path="url(#c31)">
<rect x="353.07" y="516.17" width="21.25" height="1.80" rx="0.90" fill="#000" opacity="0.22" filter="url(#b1)"/>
<rect x="378.07" y="516.17" width="21.25" height="1.80" rx="0.90" fill="#000" opacity="0.22" filter="url(#b1)"/>
<rect x="353.07" y="520.97" width="21.25" height="2.00" rx="1.00" fill="#000" opacity="0.3" filter="url(#b1)"/>
<rect x="378.07" y="520.97" width="21.25" height="2.00" rx="1.00" fill="#000" opacity="0.3" filter="url(#b1)"/>
</g>
<rect x="351.20" y="513.20" width="50.00" height="12.90" fill="none" stroke="#2a2a2a" stroke-width="1.1"/>
<clipPath id="c32"><rect x="351.20" y="530.40" width="50.00" height="13.00"/></clipPath>
<rect x="351.20" y="530.40" width="50.00" height="13.00" fill="#eaeaea" />
<g clip-path="url(#c32)">
<rect x="352.45" y="533.40" width="22.50" height="1.80" rx="0.90" fill="#000" opacity="0.55" filter="url(#b1)"/>
<rect x="352.45" y="538.56" width="22.50" height="2.40" rx="1.20" fill="#000" opacity="0.95" filter="url(#b1)"/>
<rect x="377.70" y="533.56" width="22.00" height="2.00" rx="1.00" fill="#000" opacity="0.75" filter="url(#b1)"/>
<rect x="377.70" y="539.02" width="22.00" height="2.00" rx="1.00" fill="#000" opacity="0.65" filter="url(#b1)"/>
</g>
<rect x="351.20" y="530.40" width="50.00" height="13.00" fill="none" stroke="#2a2a2a" stroke-width="1.1"/>
<clipPath id="c33"><rect x="407.70" y="406.80" width="49.70" height="13.00"/></clipPath>
<rect x="407.70" y="406.80" width="49.70" height="13.00" fill="#f3f3f3" />
<g clip-path="url(#c33)">
<rect x="408.19" y="411.45" width="19.88" height="2.40" rx="1.20" fill="#000" opacity="0.72" filter="url(#b1)"/>
<rect x="437.52" y="412.95" width="14.91" height="2.00" rx="1.00" fill="#000" opacity="0.07" filter="url(#b2)"/>
</g>
<rect x="407.70" y="406.80" width="49.70" height="13.00" fill="none" stroke="#2a2a2a" stroke-width="1.1"/>
<clipPath id="c34"><rect x="407.70" y="424.80" width="49.70" height="11.40"/></clipPath>
<rect x="407.70" y="424.80" width="49.70" height="11.40" fill="#f5f5f5" />
<g clip-path="url(#c34)">
<rect x="408.32" y="429.70" width="23.61" height="1.60" rx="0.80" fill="#000" opacity="0.4" filter="url(#b1)"/>
<rect x="433.79" y="429.93" width="22.36" height="1.60" rx="0.80" fill="#000" opacity="0.42" filter="url(#b1)"/>
</g>
<rect x="407.70" y="424.80" width="49.70" height="11.40" fill="none" stroke="#2a2a2a" stroke-width="1.1"/>
<clipPath id="c35"><rect x="407.70" y="443.50" width="49.70" height="11.30"/></clipPath>
<rect x="407.70" y="443.50" width="49.70" height="11.30" fill="#f4f4f4" />
<g clip-path="url(#c35)">
<rect x="408.94" y="447.92" width="22.36" height="2.00" rx="1.00" fill="#000" opacity="0.2" filter="url(#b2)"/>
<rect x="434.41" y="448.95" width="21.12" height="2.20" rx="1.10" fill="#000" opacity="0.27" filter="url(#b2)"/>
</g>
<rect x="407.70" y="443.50" width="49.70" height="11.30" fill="none" stroke="#2a2a2a" stroke-width="1.1"/>
<clipPath id="c36"><rect x="407.70" y="459.00" width="49.70" height="12.50"/></clipPath>
<rect x="407.70" y="459.00" width="49.70" height="12.50" fill="#e2e2e2" />
<g clip-path="url(#c36)">
<rect x="409.19" y="462.43" width="21.87" height="4.40" rx="2.20" fill="#000" opacity="0.85" filter="url(#b2)"/>
<rect x="409.56" y="465.95" width="21.12" height="1.60" rx="0.80" fill="#000" opacity="0.5" filter="url(#b1)"/>
<rect x="434.41" y="463.25" width="21.12" height="4.00" rx="2.00" fill="#000" opacity="0.75" filter="url(#b2)"/>
<rect x="435.03" y="466.45" width="19.88" height="1.60" rx="0.80" fill="#000" opacity="0.5" filter="url(#b1)"/>
</g>
<rect x="407.70" y="459.00" width="49.70" height="12.50" fill="none" stroke="#2a2a2a" stroke-width="1.1"/>
<clipPath id="c37"><rect x="407.70" y="478.70" width="49.70" height="12.70"/></clipPath>
<rect x="407.70" y="478.70" width="49.70" height="12.70" fill="#f6f6f6" />
<g clip-path="url(#c37)">
<rect x="409.56" y="483.75" width="21.12" height="2.60" rx="1.30" fill="#000" opacity="0.25" filter="url(#b2)"/>
<rect x="434.41" y="483.75" width="21.12" height="2.60" rx="1.30" fill="#000" opacity="0.4" filter="url(#b2)"/>
</g>
<rect x="407.70" y="478.70" width="49.70" height="12.70" fill="none" stroke="#2a2a2a" stroke-width="1.1"/>
<clipPath id="c38"><rect x="407.70" y="495.60" width="49.70" height="12.60"/></clipPath>
<rect x="407.70" y="495.60" width="49.70" height="12.60" fill="#d8d8d8" />
<g clip-path="url(#c38)">
<rect x="407.70" y="499.64" width="24.85" height="2.50" rx="1.25" fill="#000" opacity="0.95" filter="url(#b1)"/>
<rect x="432.55" y="499.64" width="24.85" height="2.50" rx="1.25" fill="#000" opacity="0.95" filter="url(#b1)"/>
<rect x="407.70" y="501.81" width="24.85" height="3.20" rx="1.60" fill="#000" opacity="0.12" filter="url(#b2)"/>
<rect x="432.55" y="501.81" width="24.85" height="3.20" rx="1.60" fill="#000" opacity="0.12" filter="url(#b2)"/>
</g>
<rect x="407.70" y="495.60" width="49.70" height="12.60" fill="none" stroke="#2a2a2a" stroke-width="1.1"/>
<clipPath id="c39"><rect x="407.70" y="513.20" width="49.70" height="12.90"/></clipPath>
<rect x="407.70" y="513.20" width="49.70" height="12.90" fill="#f6f6f6" />
<g clip-path="url(#c39)">
<rect x="409.56" y="516.27" width="21.12" height="1.60" rx="0.80" fill="#000" opacity="0.12" filter="url(#b1)"/>
<rect x="434.41" y="516.27" width="21.12" height="1.60" rx="0.80" fill="#000" opacity="0.12" filter="url(#b1)"/>
<rect x="408.94" y="520.91" width="22.36" height="1.60" rx="0.80" fill="#000" opacity="0.4" filter="url(#b1)"/>
<rect x="433.79" y="520.97" width="22.36" height="2.00" rx="1.00" fill="#000" opacity="0.62" filter="url(#b1)"/>
</g>
<rect x="407.70" y="513.20" width="49.70" height="12.90" fill="none" stroke="#2a2a2a" stroke-width="1.1"/>
<clipPath id="c40"><rect x="407.70" y="530.40" width="49.70" height="13.00"/></clipPath>
<rect x="407.70" y="530.40" width="49.70" height="13.00" fill="#eeeeee" />
<g clip-path="url(#c40)">
<rect x="408.32" y="533.06" width="23.61" height="1.70" rx="0.85" fill="#000" opacity="0.75" filter="url(#b1)"/>
<rect x="433.17" y="533.06" width="23.61" height="1.70" rx="0.85" fill="#000" opacity="0.75" filter="url(#b1)"/>
<rect x="408.32" y="538.55" width="23.61" height="1.90" rx="0.95" fill="#000" opacity="0.8" filter="url(#b1)"/>
<rect x="433.17" y="538.55" width="23.61" height="1.90" rx="0.95" fill="#000" opacity="0.8" filter="url(#b1)"/>
</g>
<rect x="407.70" y="530.40" width="49.70" height="13.00" fill="none" stroke="#2a2a2a" stroke-width="1.1"/>
<clipPath id="c41"><rect x="460.50" y="406.80" width="50.00" height="13.00"/></clipPath>
<rect x="460.50" y="406.80" width="50.00" height="13.00" fill="#eeeeee" />
<g clip-path="url(#c41)">
<rect x="460.38" y="411.64" width="21.25" height="2.80" rx="1.40" fill="#000" opacity="0.75" filter="url(#b1)"/>
</g>
<rect x="460.50" y="406.80" width="50.00" height="13.00" fill="none" stroke="#2a2a2a" stroke-width="1.1"/>
<clipPath id="c42"><rect x="460.50" y="424.80" width="50.00" height="11.40"/></clipPath>
<rect x="460.50" y="424.80" width="50.00" height="11.40" fill="#f0f0f0" />
<g clip-path="url(#c42)">
<rect x="462.38" y="428.73" width="21.25" height="2.40" rx="1.20" fill="#000" opacity="0.8" filter="url(#b1)"/>
<rect x="487.38" y="429.63" width="21.25" height="2.20" rx="1.10" fill="#000" opacity="0.8" filter="url(#b1)"/>
</g>
<rect x="460.50" y="424.80" width="50.00" height="11.40" fill="none" stroke="#2a2a2a" stroke-width="1.1"/>
<clipPath id="c43"><rect x="460.50" y="443.50" width="50.00" height="11.30"/></clipPath>
<rect x="460.50" y="443.50" width="50.00" height="11.30" fill="#d4d4d4" />
<g clip-path="url(#c43)">
<rect x="461.75" y="446.98" width="22.50" height="3.20" rx="1.60" fill="#000" opacity="0.5" filter="url(#b2)"/>
<rect x="486.75" y="447.42" width="22.50" height="3.00" rx="1.50" fill="#000" opacity="0.42" filter="url(#b2)"/>
</g>
<rect x="460.50" y="443.50" width="50.00" height="11.30" fill="none" stroke="#2a2a2a" stroke-width="1.1"/>
<clipPath id="c44"><rect x="460.50" y="459.00" width="50.00" height="12.50"/></clipPath>
<rect x="460.50" y="459.00" width="50.00" height="12.50" fill="#e4e4e4" />
<g clip-path="url(#c44)">
<rect x="461.75" y="463.20" width="22.50" height="4.60" rx="2.30" fill="#000" opacity="0.38" filter="url(#b3)"/>
<rect x="487.00" y="463.20" width="22.00" height="4.60" rx="2.30" fill="#000" opacity="0.36" filter="url(#b3)"/>
</g>
<rect x="460.50" y="459.00" width="50.00" height="12.50" fill="none" stroke="#2a2a2a" stroke-width="1.1"/>
<clipPath id="c45"><rect x="460.50" y="478.70" width="50.00" height="12.70"/></clipPath>
<rect x="460.50" y="478.70" width="50.00" height="12.70" fill="#e6e6e6" />
<g clip-path="url(#c45)">
<rect x="462.00" y="482.65" width="22.00" height="4.80" rx="2.40" fill="#000" opacity="0.3" filter="url(#b3)"/>
<rect x="487.38" y="482.41" width="21.25" height="4.00" rx="2.00" fill="#000" opacity="0.32" filter="url(#b3)"/>
</g>
<rect x="460.50" y="478.70" width="50.00" height="12.70" fill="none" stroke="#2a2a2a" stroke-width="1.1"/>
<clipPath id="c46"><rect x="460.50" y="495.60" width="50.00" height="12.60"/></clipPath>
<rect x="460.50" y="495.60" width="50.00" height="12.60" fill="#e2e2e2" />
<g clip-path="url(#c46)">
<rect x="461.75" y="500.70" width="22.50" height="2.40" rx="1.20" fill="#000" opacity="0.55" filter="url(#b1)"/>
<rect x="487.00" y="500.70" width="22.00" height="2.40" rx="1.20" fill="#000" opacity="0.55" filter="url(#b1)"/>
</g>
<rect x="460.50" y="495.60" width="50.00" height="12.60" fill="none" stroke="#2a2a2a" stroke-width="1.1"/>
<clipPath id="c47"><rect x="460.50" y="513.20" width="50.00" height="12.90"/></clipPath>
<rect x="460.50" y="513.20" width="50.00" height="12.90" fill="#f4f4f4" />
<g clip-path="url(#c47)">
<rect x="462.38" y="517.30" width="21.25" height="1.60" rx="0.80" fill="#000" opacity="0.5" filter="url(#b1)"/>
<rect x="487.38" y="517.30" width="21.25" height="1.60" rx="0.80" fill="#000" opacity="0.5" filter="url(#b1)"/>
<rect x="462.00" y="520.92" width="22.00" height="2.10" rx="1.05" fill="#000" opacity="0.85" filter="url(#b1)"/>
<rect x="487.00" y="520.92" width="22.00" height="2.10" rx="1.05" fill="#000" opacity="0.85" filter="url(#b1)"/>
</g>
<rect x="460.50" y="513.20" width="50.00" height="12.90" fill="none" stroke="#2a2a2a" stroke-width="1.1"/>
<clipPath id="c48"><rect x="460.50" y="530.40" width="50.00" height="13.00"/></clipPath>
<rect x="460.50" y="530.40" width="50.00" height="13.00" fill="#e0e0e0" />
<g clip-path="url(#c48)">
<rect x="462.00" y="532.80" width="22.00" height="3.00" rx="1.50" fill="#000" opacity="0.4" filter="url(#b2)"/>
<rect x="487.00" y="532.80" width="22.00" height="3.00" rx="1.50" fill="#000" opacity="0.4" filter="url(#b2)"/>
<rect x="462.00" y="538.26" width="22.00" height="3.00" rx="1.50" fill="#000" opacity="0.42" filter="url(#b2)"/>
<rect x="487.00" y="538.26" width="22.00" height="3.00" rx="1.50" fill="#000" opacity="0.42" filter="url(#b2)"/>
</g>
<rect x="460.50" y="530.40" width="50.00" height="13.00" fill="none" stroke="#2a2a2a" stroke-width="1.1"/>
<text x="66.20" y="580.90" font-size="13.6" text-anchor="middle" fill="#0c0c0c" stroke="#0c0c0c" stroke-width="0.35" font-weight="bold" >E</text>
<line x1="135.00" y1="575.60" x2="135.00" y2="734.50" stroke="#222" stroke-width="1.1" />
<line x1="134.50" y1="734.50" x2="262.00" y2="734.50" stroke="#222" stroke-width="1.1" />
<line x1="132.20" y1="580.90" x2="135.00" y2="580.90" stroke="#222" stroke-width="1.1" />
<text x="132.00" y="584.68" font-size="10.5" text-anchor="end" fill="#1a1a1a" stroke="#1a1a1a" stroke-width="0.35" font-weight="normal" >1.4</text>
<line x1="132.20" y1="602.90" x2="135.00" y2="602.90" stroke="#222" stroke-width="1.1" />
<text x="132.00" y="606.68" font-size="10.5" text-anchor="end" fill="#1a1a1a" stroke="#1a1a1a" stroke-width="0.35" font-weight="normal" >1.2</text>
<line x1="132.20" y1="624.90" x2="135.00" y2="624.90" stroke="#222" stroke-width="1.1" />
<text x="132.00" y="628.68" font-size="10.5" text-anchor="end" fill="#1a1a1a" stroke="#1a1a1a" stroke-width="0.35" font-weight="normal" >1.0</text>
<line x1="132.20" y1="646.90" x2="135.00" y2="646.90" stroke="#222" stroke-width="1.1" />
<text x="132.00" y="650.68" font-size="10.5" text-anchor="end" fill="#1a1a1a" stroke="#1a1a1a" stroke-width="0.35" font-weight="normal" >0.8</text>
<line x1="132.20" y1="669.00" x2="135.00" y2="669.00" stroke="#222" stroke-width="1.1" />
<text x="132.00" y="672.78" font-size="10.5" text-anchor="end" fill="#1a1a1a" stroke="#1a1a1a" stroke-width="0.35" font-weight="normal" >0.6</text>
<line x1="132.20" y1="691.00" x2="135.00" y2="691.00" stroke="#222" stroke-width="1.1" />
<text x="132.00" y="694.78" font-size="10.5" text-anchor="end" fill="#1a1a1a" stroke="#1a1a1a" stroke-width="0.35" font-weight="normal" >0.4</text>
<line x1="132.20" y1="713.00" x2="135.00" y2="713.00" stroke="#222" stroke-width="1.1" />
<text x="132.00" y="716.78" font-size="10.5" text-anchor="end" fill="#1a1a1a" stroke="#1a1a1a" stroke-width="0.35" font-weight="normal" >0.2</text>
<line x1="188.50" y1="734.50" x2="188.50" y2="737.10" stroke="#222" stroke-width="1" />
<line x1="244.60" y1="734.50" x2="244.60" y2="737.10" stroke="#222" stroke-width="1" />
<text x="188.50" y="748.71" font-size="10.3" text-anchor="middle" fill="#1a1a1a" stroke="#1a1a1a" stroke-width="0.35" font-weight="normal" >24</text>
<text x="239.60" y="748.71" font-size="10.3" text-anchor="start" fill="#1a1a1a" stroke="#1a1a1a" stroke-width="0.35" font-weight="normal" >48hours</text>
<text x="177.00" y="577.30" font-size="10" text-anchor="middle" fill="#1a1a1a" stroke="#1a1a1a" stroke-width="0.35" font-weight="normal" >606</text>
<text transform="translate(107.5,655) rotate(-90)" font-size="10.3" text-anchor="middle" fill="#1a1a1a" stroke="#1a1a1a" stroke-width="0.35" dy="3.6">Living cell number (10<tspan font-size="6.5" dy="-3.2">6</tspan><tspan dy="3.2">/mL)</tspan></text>
<polyline points="135.00,724.10 188.50,717.70 244.60,704.20" fill="none" stroke="#f03ce2" stroke-width="1.55" stroke-linejoin="round"/>
<line x1="188.50" y1="713.00" x2="188.50" y2="722.50" stroke="#f03ce2" stroke-width="1.1" />
<line x1="184.70" y1="713.00" x2="192.30" y2="713.00" stroke="#f03ce2" stroke-width="1.1" />
<line x1="184.70" y1="722.50" x2="192.30" y2="722.50" stroke="#f03ce2" stroke-width="1.1" />
<line x1="244.60" y1="700.40" x2="244.60" y2="708.80" stroke="#f03ce2" stroke-width="1.1" />
<line x1="240.80" y1="700.40" x2="248.40" y2="700.40" stroke="#f03ce2" stroke-width="1.1" />
<line x1="240.80" y1="708.80" x2="248.40" y2="708.80" stroke="#f03ce2" stroke-width="1.1" />
<text x="252.30" y="708.21" font-size="10.3" text-anchor="start" fill="#c930c4" stroke="#c930c4" stroke-width="0.35" font-weight="normal" >sh17+LY</text>
<polyline points="135.00,724.10 188.50,708.00 244.60,678.80" fill="none" stroke="#3ccaca" stroke-width="1.25" stroke-linejoin="round"/>
<line x1="188.50" y1="703.00" x2="188.50" y2="713.00" stroke="#3ccaca" stroke-width="1.1" />
<line x1="184.70" y1="703.00" x2="192.30" y2="703.00" stroke="#3ccaca" stroke-width="1.1" />
<line x1="184.70" y1="713.00" x2="192.30" y2="713.00" stroke="#3ccaca" stroke-width="1.1" />
<line x1="244.60" y1="672.30" x2="244.60" y2="685.80" stroke="#3ccaca" stroke-width="1.1" />
<line x1="240.80" y1="672.30" x2="248.40" y2="672.30" stroke="#3ccaca" stroke-width="1.1" />
<line x1="240.80" y1="685.80" x2="248.40" y2="685.80" stroke="#3ccaca" stroke-width="1.1" />
<text x="252.30" y="684.11" font-size="10.3" text-anchor="start" fill="#4cc2c2" stroke="#4cc2c2" stroke-width="0.35" font-weight="normal" >sh17+V</text>
<polyline points="135.00,724.10 188.50,700.00 244.60,664.60" fill="none" stroke="#fbb872" stroke-width="1.25" stroke-linejoin="round"/>
<line x1="188.50" y1="698.40" x2="188.50" y2="701.60" stroke="#fbb872" stroke-width="1.1" />
<line x1="184.70" y1="698.40" x2="192.30" y2="698.40" stroke="#fbb872" stroke-width="1.1" />
<line x1="184.70" y1="701.60" x2="192.30" y2="701.60" stroke="#fbb872" stroke-width="1.1" />
<line x1="244.60" y1="659.60" x2="244.60" y2="669.20" stroke="#fbb872" stroke-width="1.1" />
<line x1="240.80" y1="659.60" x2="248.40" y2="659.60" stroke="#fbb872" stroke-width="1.1" />
<line x1="240.80" y1="669.20" x2="248.40" y2="669.20" stroke="#fbb872" stroke-width="1.1" />
<text x="252.30" y="669.11" font-size="10.3" text-anchor="start" fill="#f3b57a" stroke="#f3b57a" stroke-width="0.35" font-weight="normal" >sh-ns+LY</text>
<polyline points="135.00,724.10 188.50,686.50 244.60,577.30" fill="none" stroke="#1733d6" stroke-width="1.75" stroke-linejoin="round"/>
<line x1="188.50" y1="678.00" x2="188.50" y2="693.50" stroke="#1733d6" stroke-width="1.1" />
<line x1="184.70" y1="678.00" x2="192.30" y2="678.00" stroke="#1733d6" stroke-width="1.1" />
<line x1="184.70" y1="693.50" x2="192.30" y2="693.50" stroke="#1733d6" stroke-width="1.1" />
<line x1="244.60" y1="570.40" x2="244.60" y2="584.60" stroke="#1733d6" stroke-width="1.1" />
<line x1="240.80" y1="570.40" x2="248.40" y2="570.40" stroke="#1733d6" stroke-width="1.1" />
<line x1="240.80" y1="584.60" x2="248.40" y2="584.60" stroke="#1733d6" stroke-width="1.1" />
<text x="252.30" y="581.71" font-size="10.3" text-anchor="start" fill="#2233c4" stroke="#2233c4" stroke-width="0.35" font-weight="normal" >sh-ns+V</text>
<rect x="185.80" y="715.00" width="5.40" height="5.40" fill="#f03ce2" />
<rect x="241.90" y="701.50" width="5.40" height="5.40" fill="#f03ce2" />
<rect x="185.80" y="705.30" width="5.40" height="5.40" fill="#3ccaca" />
<rect x="241.90" y="676.10" width="5.40" height="5.40" fill="#3ccaca" />
<rect x="185.80" y="697.30" width="5.40" height="5.40" fill="#fbb872" />
<rect x="241.90" y="661.90" width="5.40" height="5.40" fill="#fbb872" />
<circle cx="188.50" cy="686.50" r="3.4" fill="#1733d6"/>
<circle cx="244.60" cy="577.30" r="3.4" fill="#1733d6"/>
<circle cx="135.00" cy="724.10" r="3.7" fill="#1733d6"/>
<line x1="353.20" y1="601.30" x2="353.20" y2="734.50" stroke="#222" stroke-width="1.1" />
<line x1="352.70" y1="734.50" x2="479.60" y2="734.50" stroke="#222" stroke-width="1.1" />
<line x1="350.40" y1="604.10" x2="353.20" y2="604.10" stroke="#222" stroke-width="1.1" />
<text x="348.40" y="607.88" font-size="10.5" text-anchor="end" fill="#1a1a1a" stroke="#1a1a1a" stroke-width="0.35" font-weight="normal" >1.2</text>
<line x1="350.40" y1="625.70" x2="353.20" y2="625.70" stroke="#222" stroke-width="1.1" />
<text x="348.40" y="629.48" font-size="10.5" text-anchor="end" fill="#1a1a1a" stroke="#1a1a1a" stroke-width="0.35" font-weight="normal" >1.0</text>
<line x1="350.40" y1="647.40" x2="353.20" y2="647.40" stroke="#222" stroke-width="1.1" />
<text x="348.40" y="651.18" font-size="10.5" text-anchor="end" fill="#1a1a1a" stroke="#1a1a1a" stroke-width="0.35" font-weight="normal" >0.8</text>
<line x1="350.40" y1="669.00" x2="353.20" y2="669.00" stroke="#222" stroke-width="1.1" />
<text x="348.40" y="672.78" font-size="10.5" text-anchor="end" fill="#1a1a1a" stroke="#1a1a1a" stroke-width="0.35" font-weight="normal" >0.6</text>
<line x1="350.40" y1="690.70" x2="353.20" y2="690.70" stroke="#222" stroke-width="1.1" />
<text x="348.40" y="694.48" font-size="10.5" text-anchor="end" fill="#1a1a1a" stroke="#1a1a1a" stroke-width="0.35" font-weight="normal" >0.4</text>
<line x1="350.40" y1="712.30" x2="353.20" y2="712.30" stroke="#222" stroke-width="1.1" />
<text x="348.40" y="716.08" font-size="10.5" text-anchor="end" fill="#1a1a1a" stroke="#1a1a1a" stroke-width="0.35" font-weight="normal" >0.2</text>
<line x1="407.80" y1="734.50" x2="407.80" y2="737.10" stroke="#222" stroke-width="1" />
<line x1="461.50" y1="734.50" x2="461.50" y2="737.10" stroke="#222" stroke-width="1" />
<text x="407.80" y="748.71" font-size="10.3" text-anchor="middle" fill="#1a1a1a" stroke="#1a1a1a" stroke-width="0.35" font-weight="normal" >24</text>
<text x="456.20" y="748.71" font-size="10.3" text-anchor="start" fill="#1a1a1a" stroke="#1a1a1a" stroke-width="0.35" font-weight="normal" >48hours</text>
<text x="394.80" y="589.90" font-size="10" text-anchor="middle" fill="#1a1a1a" stroke="#1a1a1a" stroke-width="0.35" font-weight="normal" >931</text>
<text transform="translate(325.6,657) rotate(-90)" font-size="10.3" text-anchor="middle" fill="#1a1a1a" stroke="#1a1a1a" stroke-width="0.35" dy="3.6">Living cell number (10<tspan font-size="6.5" dy="-3.2">6</tspan><tspan dy="3.2">/mL)</tspan></text>
<polyline points="353.20,723.20 407.80,718.20 461.50,704.20" fill="none" stroke="#f03ce2" stroke-width="1.55" stroke-linejoin="round"/>
<line x1="407.80" y1="712.90" x2="407.80" y2="723.30" stroke="#f03ce2" stroke-width="1.1" />
<line x1="404.00" y1="712.90" x2="411.60" y2="712.90" stroke="#f03ce2" stroke-width="1.1" />
<line x1="404.00" y1="723.30" x2="411.60" y2="723.30" stroke="#f03ce2" stroke-width="1.1" />
<line x1="461.50" y1="700.20" x2="461.50" y2="708.30" stroke="#f03ce2" stroke-width="1.1" />
<line x1="457.70" y1="700.20" x2="465.30" y2="700.20" stroke="#f03ce2" stroke-width="1.1" />
<line x1="457.70" y1="708.30" x2="465.30" y2="708.30" stroke="#f03ce2" stroke-width="1.1" />
<text x="468.70" y="708.21" font-size="10.3" text-anchor="start" fill="#c930c4" stroke="#c930c4" stroke-width="0.35" font-weight="normal" >sh17+LY</text>
<polyline points="353.20,723.20 407.80,704.60 461.50,676.00" fill="none" stroke="#3ccaca" stroke-width="1.25" stroke-linejoin="round"/>
<line x1="407.80" y1="702.00" x2="407.80" y2="707.40" stroke="#3ccaca" stroke-width="1.1" />
<line x1="404.00" y1="702.00" x2="411.60" y2="702.00" stroke="#3ccaca" stroke-width="1.1" />
<line x1="404.00" y1="707.40" x2="411.60" y2="707.40" stroke="#3ccaca" stroke-width="1.1" />
<line x1="461.50" y1="671.90" x2="461.50" y2="680.80" stroke="#3ccaca" stroke-width="1.1" />
<line x1="457.70" y1="671.90" x2="465.30" y2="671.90" stroke="#3ccaca" stroke-width="1.1" />
<line x1="457.70" y1="680.80" x2="465.30" y2="680.80" stroke="#3ccaca" stroke-width="1.1" />
<text x="468.70" y="679.71" font-size="10.3" text-anchor="start" fill="#4cc2c2" stroke="#4cc2c2" stroke-width="0.35" font-weight="normal" >sh17+V</text>
<polyline points="353.20,723.20 407.80,698.20 461.50,664.70" fill="none" stroke="#fbb872" stroke-width="1.25" stroke-linejoin="round"/>
<line x1="407.80" y1="696.40" x2="407.80" y2="700.00" stroke="#fbb872" stroke-width="1.1" />
<line x1="404.00" y1="696.40" x2="411.60" y2="696.40" stroke="#fbb872" stroke-width="1.1" />
<line x1="404.00" y1="700.00" x2="411.60" y2="700.00" stroke="#fbb872" stroke-width="1.1" />
<line x1="461.50" y1="659.80" x2="461.50" y2="669.10" stroke="#fbb872" stroke-width="1.1" />
<line x1="457.70" y1="659.80" x2="465.30" y2="659.80" stroke="#fbb872" stroke-width="1.1" />
<line x1="457.70" y1="669.10" x2="465.30" y2="669.10" stroke="#fbb872" stroke-width="1.1" />
<text x="468.70" y="667.61" font-size="10.3" text-anchor="start" fill="#f3b57a" stroke="#f3b57a" stroke-width="0.35" font-weight="normal" >sh-ns+LY</text>
<polyline points="353.20,723.20 407.80,691.40 461.50,609.30" fill="none" stroke="#1733d6" stroke-width="1.75" stroke-linejoin="round"/>
<line x1="407.80" y1="683.80" x2="407.80" y2="699.20" stroke="#1733d6" stroke-width="1.1" />
<line x1="404.00" y1="683.80" x2="411.60" y2="683.80" stroke="#1733d6" stroke-width="1.1" />
<line x1="404.00" y1="699.20" x2="411.60" y2="699.20" stroke="#1733d6" stroke-width="1.1" />
<line x1="461.50" y1="605.30" x2="461.50" y2="613.40" stroke="#1733d6" stroke-width="1.1" />
<line x1="457.70" y1="605.30" x2="465.30" y2="605.30" stroke="#1733d6" stroke-width="1.1" />
<line x1="457.70" y1="613.40" x2="465.30" y2="613.40" stroke="#1733d6" stroke-width="1.1" />
<text x="468.70" y="613.01" font-size="10.3" text-anchor="start" fill="#2233c4" stroke="#2233c4" stroke-width="0.35" font-weight="normal" >sh-ns+V</text>
<rect x="405.10" y="715.50" width="5.40" height="5.40" fill="#f03ce2" />
<rect x="458.80" y="701.50" width="5.40" height="5.40" fill="#f03ce2" />
<rect x="405.10" y="701.90" width="5.40" height="5.40" fill="#3ccaca" />
<rect x="458.80" y="673.30" width="5.40" height="5.40" fill="#3ccaca" />
<rect x="405.10" y="695.50" width="5.40" height="5.40" fill="#fbb872" />
<rect x="458.80" y="662.00" width="5.40" height="5.40" fill="#fbb872" />
<circle cx="407.80" cy="691.40" r="3.4" fill="#1733d6"/>
<circle cx="461.50" cy="609.30" r="3.4" fill="#1733d6"/>
<circle cx="353.20" cy="723.20" r="3.7" fill="#1733d6"/>
</g></svg></body></html>
